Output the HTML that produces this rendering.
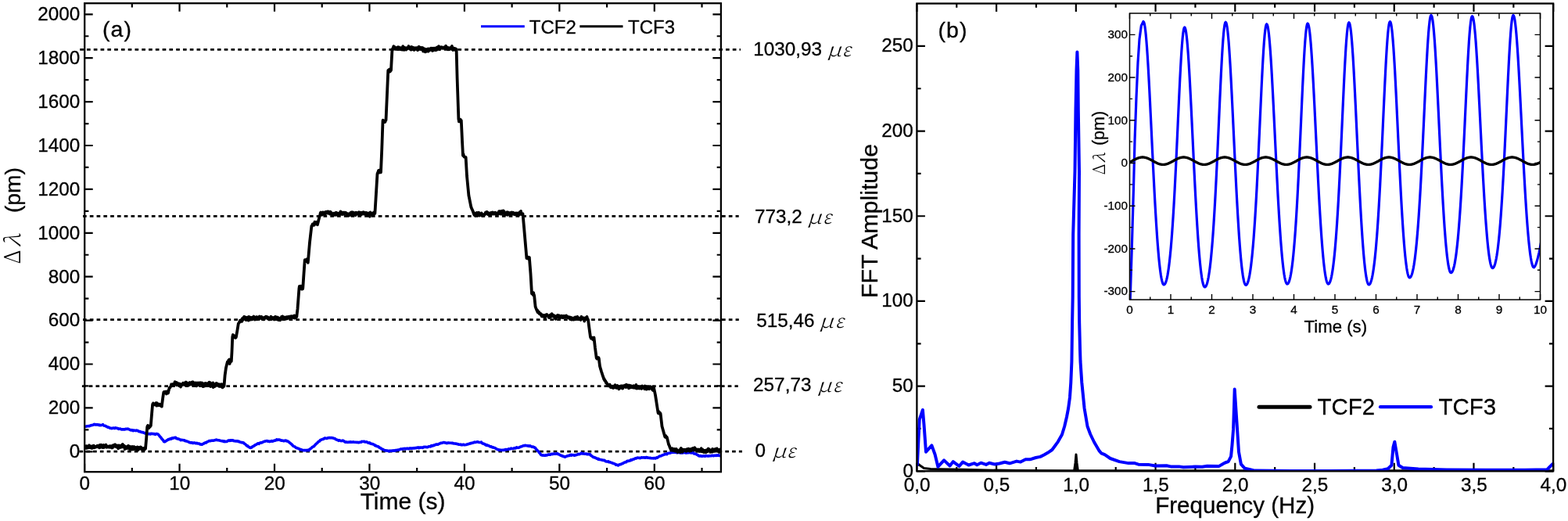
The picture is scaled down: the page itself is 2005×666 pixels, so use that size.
<!DOCTYPE html>
<html><head><meta charset="utf-8"><title>Figure</title>
<style>html,body{margin:0;padding:0;background:#fff;}svg{display:block;}</style></head>
<body><svg width="2005" height="666" viewBox="0 0 2005 666">
<rect width="2005" height="666" fill="#fff"/>
<line x1="102.2" y1="63.4" x2="947.0" y2="63.4" stroke="#000" stroke-width="2.7" stroke-dasharray="4.7 4.085"/>
<line x1="106.0" y1="276.4" x2="944.7" y2="276.4" stroke="#000" stroke-width="2.7" stroke-dasharray="4.7 4.085"/>
<line x1="106.0" y1="408.6" x2="944.8" y2="408.6" stroke="#000" stroke-width="2.7" stroke-dasharray="4.7 4.085"/>
<line x1="104.9" y1="493.7" x2="943.8" y2="493.7" stroke="#000" stroke-width="2.7" stroke-dasharray="4.7 4.085"/>
<line x1="101.5" y1="577.2" x2="949.0" y2="577.2" stroke="#000" stroke-width="2.7" stroke-dasharray="4.7 4.085"/>
<clipPath id="ca"><rect x="108.2" y="4.2" width="813.6999999999999" height="599.0"/></clipPath>
<g clip-path="url(#ca)">
<path d="M108.60,545.30 L109.60,545.26 L110.60,545.00 L111.60,544.74 L112.60,544.73 L113.00,544.55 L113.60,544.64 L114.60,544.68 L115.60,543.93 L116.60,543.62 L117.60,543.61 L118.60,543.29 L119.60,542.94 L120.60,542.40 L120.70,542.59 L121.60,542.93 L122.60,542.60 L123.60,542.99 L124.60,542.81 L125.60,543.13 L126.60,543.17 L127.00,543.64 L127.60,543.33 L128.60,543.63 L129.60,543.51 L130.60,543.33 L131.50,542.67 L131.60,543.21 L132.60,543.78 L133.60,544.26 L134.60,544.30 L135.60,545.00 L136.00,545.06 L136.60,545.32 L137.60,546.15 L138.60,546.05 L139.60,546.61 L140.60,547.20 L141.60,547.20 L142.30,547.57 L142.60,547.60 L143.60,547.51 L144.60,547.11 L145.60,547.36 L146.60,547.60 L147.60,546.79 L148.60,547.31 L149.60,547.38 L150.60,547.43 L151.60,548.34 L152.60,548.28 L153.60,548.03 L154.60,548.60 L155.60,548.97 L155.90,548.85 L156.60,549.02 L157.60,548.77 L158.60,548.88 L159.60,549.00 L160.60,548.40 L161.60,548.55 L162.60,548.32 L163.10,548.43 L163.60,548.25 L164.60,548.69 L165.60,549.08 L166.60,549.65 L167.60,550.00 L168.60,549.67 L169.60,550.10 L170.30,550.66 L170.60,549.98 L171.60,550.30 L172.60,550.32 L173.60,550.59 L174.60,550.39 L174.80,550.12 L175.60,550.40 L176.60,550.79 L177.60,551.60 L178.60,551.48 L179.60,551.88 L180.60,552.41 L181.10,552.47 L181.60,552.58 L182.60,552.60 L183.60,553.12 L184.60,553.26 L185.60,553.92 L186.60,554.04 L187.60,554.12 L188.30,554.47 L188.60,554.26 L189.60,554.74 L190.60,554.61 L191.60,554.89 L192.00,554.48 L192.60,554.89 L193.60,554.38 L194.60,554.29 L195.60,554.72 L196.60,554.58 L197.60,554.84 L198.60,555.36 L199.60,554.59 L200.60,554.64 L201.60,554.85 L201.80,554.92 L202.60,555.67 L203.60,556.82 L204.50,558.08 L204.60,558.16 L205.60,559.04 L206.60,560.55 L207.60,561.85 L208.60,562.85 L209.60,564.46 L210.00,564.69 L210.60,564.81 L211.60,564.07 L212.60,563.50 L213.60,562.78 L214.60,562.35 L215.30,561.50 L215.60,561.62 L216.60,561.67 L217.60,560.72 L218.60,561.14 L219.60,560.16 L220.60,560.47 L221.60,559.74 L222.60,559.82 L223.60,559.33 L224.60,559.32 L225.60,560.42 L226.60,560.88 L227.60,560.91 L228.60,561.26 L229.60,561.69 L230.60,561.89 L231.00,562.57 L231.60,562.27 L232.60,562.56 L233.60,562.54 L234.60,562.75 L235.60,562.76 L236.60,563.56 L236.90,563.26 L237.60,563.84 L238.60,564.02 L239.60,564.26 L240.60,564.77 L241.60,565.13 L242.60,565.69 L243.10,565.81 L243.60,565.86 L244.60,565.66 L245.60,565.86 L246.60,566.55 L247.60,566.03 L248.60,566.00 L249.60,566.42 L250.60,566.75 L251.60,566.29 L252.60,566.85 L253.60,567.00 L254.60,566.97 L255.60,567.85 L256.60,567.91 L257.60,568.19 L258.10,568.11 L258.60,568.16 L259.60,567.42 L260.60,567.01 L261.60,566.27 L262.60,565.75 L263.60,565.88 L264.60,564.92 L265.60,564.62 L266.60,564.04 L267.10,563.69 L267.60,563.60 L268.60,563.74 L269.60,563.37 L270.60,563.26 L271.60,563.16 L272.60,563.31 L273.60,563.04 L274.60,562.82 L275.60,562.44 L276.60,562.10 L277.60,562.54 L278.60,562.75 L279.60,562.69 L280.60,563.07 L281.60,563.34 L282.60,563.57 L283.60,563.80 L284.60,563.67 L285.60,564.38 L286.60,563.90 L287.50,564.62 L287.60,564.50 L288.60,564.40 L289.60,564.45 L290.60,564.15 L291.60,563.29 L292.60,562.96 L293.60,563.38 L294.60,562.73 L295.00,562.90 L295.60,563.20 L296.60,562.73 L297.60,562.77 L298.60,563.52 L299.60,563.62 L300.60,563.70 L301.60,563.92 L302.60,563.85 L303.60,563.84 L304.60,564.33 L304.80,564.16 L305.60,564.22 L306.60,565.04 L307.60,565.18 L308.60,565.58 L309.60,565.51 L310.60,565.88 L311.50,566.05 L311.60,566.16 L312.60,567.22 L313.60,567.76 L314.60,568.84 L315.30,569.38 L315.60,570.01 L316.60,569.85 L317.60,571.12 L318.60,571.57 L319.60,572.28 L320.20,572.34 L320.60,572.33 L321.60,572.01 L322.60,571.18 L323.60,570.60 L324.60,569.88 L325.00,569.99 L325.60,569.42 L326.60,568.43 L327.60,568.36 L328.60,567.59 L329.60,566.82 L330.60,567.05 L331.00,567.33 L331.60,566.79 L332.60,566.10 L333.60,565.78 L334.60,565.92 L335.60,565.30 L336.60,564.90 L337.60,564.49 L338.60,564.14 L339.60,563.95 L340.00,563.74 L340.60,563.74 L341.60,563.58 L342.60,564.12 L343.60,563.97 L344.60,564.57 L345.30,564.08 L345.60,564.30 L346.60,564.11 L347.60,563.57 L348.60,564.11 L349.60,563.82 L350.60,563.12 L351.60,563.21 L352.60,562.90 L353.60,561.93 L354.60,562.43 L355.60,562.13 L355.80,562.12 L356.60,561.98 L357.60,562.38 L358.60,562.59 L359.60,563.12 L360.60,563.10 L361.60,563.21 L362.60,563.78 L363.60,563.30 L364.60,563.38 L365.60,563.06 L366.60,563.95 L367.60,563.83 L367.80,563.83 L368.60,564.46 L369.60,565.19 L370.60,566.08 L371.60,566.83 L372.60,567.71 L373.60,568.64 L374.60,569.88 L375.60,570.51 L376.10,570.79 L376.60,570.90 L377.60,571.38 L378.60,572.43 L379.60,572.65 L380.60,573.04 L381.60,573.43 L382.60,573.73 L383.60,574.48 L384.60,574.97 L385.60,574.90 L386.60,575.19 L387.60,575.44 L388.60,575.78 L389.60,575.60 L390.60,575.81 L391.60,575.52 L392.60,575.82 L393.60,575.28 L394.60,575.48 L394.90,575.68 L395.60,574.67 L396.60,573.80 L397.60,573.21 L398.60,572.37 L399.60,571.33 L400.60,570.91 L401.60,570.50 L402.60,569.03 L403.60,568.13 L404.60,567.01 L405.60,566.45 L406.60,565.15 L407.60,564.27 L408.60,563.96 L409.60,562.51 L410.30,562.37 L410.60,562.37 L411.60,561.67 L412.60,561.37 L413.60,561.34 L414.60,560.43 L414.80,560.25 L415.60,559.98 L416.60,560.23 L417.60,560.49 L418.60,560.26 L419.60,559.68 L420.60,559.61 L421.60,559.59 L422.60,559.69 L423.60,559.47 L423.80,559.55 L424.60,559.76 L425.60,559.85 L426.60,560.16 L427.60,560.46 L428.00,560.48 L428.60,560.96 L429.60,561.87 L430.60,562.11 L431.60,562.54 L432.60,562.67 L432.80,563.30 L433.60,562.76 L434.60,562.94 L435.60,563.56 L436.60,563.58 L437.60,563.42 L438.40,563.07 L438.60,563.48 L439.60,563.76 L440.60,564.44 L441.60,565.21 L442.60,565.05 L443.60,565.16 L444.00,565.21 L444.60,565.43 L445.60,565.31 L446.60,564.98 L447.60,565.21 L448.60,564.81 L449.60,565.28 L450.60,565.18 L450.80,565.17 L451.60,564.89 L452.60,565.27 L453.60,565.24 L454.60,565.31 L455.60,565.45 L456.60,565.34 L457.60,565.44 L458.60,565.81 L459.60,565.37 L460.60,565.28 L461.60,565.28 L462.60,564.41 L463.60,564.45 L464.60,564.50 L465.40,564.40 L465.60,564.26 L466.60,564.90 L467.60,564.98 L468.60,564.91 L469.60,565.26 L470.60,565.98 L471.60,566.18 L472.60,565.87 L473.60,566.97 L474.60,567.07 L475.60,567.54 L476.60,567.60 L477.60,568.11 L478.60,568.40 L479.60,569.81 L480.60,569.62 L481.60,570.56 L482.60,570.49 L483.50,571.14 L483.60,570.74 L484.60,571.64 L485.60,572.56 L486.60,572.58 L487.60,573.73 L488.60,574.13 L489.60,574.36 L490.60,575.07 L491.30,575.49 L491.60,575.65 L492.60,575.72 L493.60,575.84 L494.60,576.16 L495.60,576.17 L496.60,576.30 L497.00,576.69 L497.60,576.86 L498.60,576.14 L499.60,576.42 L500.60,576.15 L501.60,575.95 L502.60,576.30 L503.60,575.85 L504.60,576.25 L505.60,575.57 L506.60,575.75 L507.10,575.54 L507.60,575.29 L508.60,575.37 L509.60,574.94 L510.60,574.88 L511.60,574.46 L512.60,573.95 L513.60,573.95 L513.90,573.91 L514.60,574.11 L515.60,573.60 L516.60,573.77 L517.60,573.30 L518.60,573.85 L519.60,573.38 L520.60,573.15 L521.60,573.54 L522.60,573.79 L523.60,573.09 L524.60,573.15 L525.10,573.21 L525.60,573.06 L526.60,573.34 L527.60,572.93 L528.60,572.85 L529.60,573.07 L530.60,572.63 L531.60,572.82 L532.60,572.36 L533.60,572.19 L534.60,571.93 L535.60,572.75 L536.40,572.12 L536.60,572.25 L537.60,572.11 L538.60,572.08 L539.60,571.98 L540.60,572.38 L541.60,571.57 L542.60,571.37 L543.60,571.43 L544.60,571.28 L545.60,571.73 L546.60,571.68 L547.60,571.16 L548.60,570.76 L549.60,570.73 L550.60,570.88 L551.60,569.54 L552.60,570.09 L553.60,569.40 L554.60,569.64 L555.60,568.82 L556.60,568.73 L557.60,568.13 L558.60,567.97 L559.60,568.26 L560.60,567.83 L561.60,567.23 L562.60,566.82 L563.60,566.27 L564.60,566.35 L565.60,566.15 L566.60,565.84 L566.80,565.78 L567.60,565.57 L568.60,565.90 L569.60,565.97 L570.60,566.37 L571.60,566.58 L572.60,566.14 L573.60,566.05 L574.60,566.29 L575.60,566.22 L576.60,566.25 L577.60,566.48 L578.60,566.30 L579.20,566.75 L579.60,566.66 L580.60,566.95 L581.60,567.04 L582.60,567.11 L583.60,567.26 L584.60,567.64 L585.60,567.77 L586.60,568.17 L587.60,568.31 L588.60,568.17 L589.60,568.74 L590.00,568.46 L590.60,568.63 L591.60,568.67 L592.60,568.19 L593.60,568.70 L594.60,568.68 L595.60,568.57 L596.00,568.49 L596.60,568.32 L597.60,567.85 L598.60,567.72 L599.60,567.33 L600.60,567.18 L601.60,566.54 L602.60,566.59 L602.70,566.54 L603.60,566.25 L604.60,565.94 L605.60,565.96 L606.60,565.17 L607.60,565.46 L608.60,565.17 L609.50,564.97 L609.60,565.01 L610.60,564.87 L611.60,565.08 L612.60,565.43 L613.60,565.49 L614.60,565.56 L615.40,565.22 L615.60,565.84 L616.60,566.55 L617.60,567.05 L618.60,567.40 L619.60,567.50 L620.60,568.67 L621.60,568.94 L622.20,568.67 L622.60,569.51 L623.60,569.32 L624.60,569.65 L625.60,570.09 L626.60,570.85 L627.60,570.72 L628.60,571.16 L629.00,571.64 L629.60,571.86 L630.60,571.88 L631.60,572.29 L632.60,572.48 L633.60,573.07 L634.60,573.79 L635.60,574.22 L636.60,574.60 L637.60,575.26 L637.80,574.91 L638.60,575.11 L639.60,575.34 L640.60,575.33 L641.60,575.48 L642.60,575.34 L643.60,575.19 L644.60,575.39 L645.60,574.87 L646.60,574.53 L647.60,574.90 L648.60,574.56 L649.60,574.47 L650.60,573.78 L651.60,573.94 L652.60,573.70 L653.40,573.48 L653.60,573.10 L654.60,573.41 L655.60,573.55 L656.60,573.25 L657.60,572.83 L658.60,572.81 L659.60,572.83 L660.60,571.78 L661.60,572.27 L662.20,572.34 L662.60,572.24 L663.60,572.16 L664.60,571.69 L665.60,571.16 L666.60,570.83 L667.60,570.62 L668.60,569.96 L669.60,569.75 L670.60,569.66 L671.00,569.79 L671.60,569.33 L672.60,569.48 L673.60,569.66 L674.60,570.06 L675.60,569.83 L676.60,570.33 L677.60,569.83 L677.80,570.05 L678.60,570.34 L679.60,570.94 L680.60,571.36 L681.60,571.08 L682.60,571.58 L683.60,572.25 L683.70,572.04 L684.60,572.72 L685.60,574.36 L686.60,575.22 L687.60,576.22 L688.60,577.19 L689.60,578.77 L690.60,579.65 L691.60,581.19 L692.50,581.77 L692.60,581.79 L693.60,582.10 L694.60,581.91 L695.60,582.30 L696.60,582.24 L697.30,581.97 L697.60,582.14 L698.60,581.78 L699.60,581.85 L700.60,581.21 L701.60,581.00 L702.60,581.16 L703.60,581.16 L704.60,580.85 L705.20,580.22 L705.60,580.25 L706.60,580.58 L707.60,580.17 L708.60,579.96 L709.60,580.23 L710.60,580.31 L711.60,579.99 L712.60,579.79 L713.00,579.84 L713.60,580.64 L714.60,580.73 L715.60,581.33 L716.60,581.87 L717.60,582.42 L718.60,582.63 L719.60,583.28 L720.60,583.38 L721.60,583.96 L721.70,583.84 L722.60,584.12 L723.60,583.53 L724.60,583.06 L725.60,582.86 L726.60,582.60 L727.60,582.53 L728.60,581.66 L729.60,581.51 L730.50,581.41 L730.60,582.14 L731.60,581.81 L732.60,581.60 L733.60,581.87 L734.60,582.27 L735.40,581.74 L735.60,581.65 L736.60,581.75 L737.60,581.27 L738.60,581.02 L739.60,580.43 L740.60,580.75 L741.60,580.40 L742.60,579.82 L743.20,579.67 L743.60,579.05 L744.60,579.85 L745.60,579.78 L746.60,580.08 L747.60,580.28 L748.60,580.16 L749.60,579.97 L750.60,580.62 L751.60,580.48 L752.60,580.72 L753.60,580.79 L754.00,580.91 L754.60,580.81 L755.60,582.34 L756.60,582.75 L757.60,583.62 L758.60,584.48 L759.60,584.65 L760.00,584.45 L760.60,584.92 L761.60,585.24 L762.60,585.82 L763.60,586.37 L764.60,586.26 L765.20,587.09 L765.60,586.72 L766.60,587.41 L767.60,587.54 L768.60,587.73 L769.60,588.03 L770.60,588.15 L771.60,588.37 L772.60,588.34 L773.60,588.99 L774.60,589.70 L775.60,589.97 L776.60,590.04 L777.60,590.13 L777.80,589.83 L778.60,590.67 L779.60,590.67 L780.60,591.05 L781.60,591.37 L782.60,591.85 L783.60,592.10 L784.60,592.57 L785.60,592.70 L786.60,593.26 L787.60,594.30 L788.60,594.10 L789.60,594.44 L790.40,594.93 L790.60,594.89 L791.60,594.01 L792.60,593.81 L793.60,593.66 L794.60,593.07 L795.60,592.60 L796.60,592.53 L797.60,591.54 L798.60,591.31 L799.60,590.73 L800.60,590.80 L801.60,589.51 L802.60,589.40 L803.00,589.27 L803.60,589.37 L804.60,589.03 L805.60,588.90 L806.60,587.84 L807.60,588.09 L808.60,587.50 L809.60,587.09 L810.60,587.06 L811.60,586.37 L812.60,585.76 L813.60,585.86 L814.60,585.25 L815.60,585.14 L816.60,585.37 L817.60,585.33 L818.60,585.62 L819.60,585.15 L820.60,584.80 L821.60,584.97 L822.60,584.90 L823.60,584.80 L824.60,585.19 L825.60,584.90 L826.60,584.54 L827.60,585.18 L828.00,584.97 L828.60,585.15 L829.60,585.19 L830.60,585.43 L831.60,585.38 L832.60,585.78 L833.60,585.68 L834.60,585.78 L835.60,585.89 L836.60,585.52 L837.60,585.95 L837.70,585.94 L838.60,585.67 L839.60,584.85 L840.60,585.17 L841.60,584.35 L842.60,583.60 L843.60,583.04 L844.60,582.97 L845.60,582.59 L846.60,582.01 L847.60,581.78 L848.60,581.17 L849.60,581.04 L850.30,580.42 L850.60,580.52 L851.60,580.54 L852.60,580.70 L853.60,579.58 L854.60,579.48 L855.60,579.15 L856.60,579.32 L857.60,578.60 L858.60,578.54 L859.60,578.42 L859.70,578.16 L860.60,578.19 L861.60,578.34 L862.60,577.97 L863.60,578.17 L864.60,578.46 L865.60,578.63 L866.60,578.58 L867.60,578.21 L868.60,578.57 L869.60,578.92 L870.60,578.89 L871.60,578.77 L872.00,578.58 L872.60,578.94 L873.60,578.61 L874.60,578.43 L875.60,578.49 L876.60,579.02 L877.60,578.68 L878.60,578.89 L879.60,578.45 L880.60,578.77 L881.60,578.35 L882.60,578.43 L883.60,579.06 L884.60,578.60 L885.00,578.27 L885.60,578.66 L886.60,579.23 L887.60,579.92 L888.60,579.96 L889.60,580.12 L890.60,580.95 L891.60,581.49 L892.60,581.98 L893.60,582.75 L894.40,582.88 L894.60,583.00 L895.60,582.52 L896.60,583.02 L897.60,583.32 L898.60,582.99 L899.60,582.86 L900.60,582.84 L901.60,583.25 L902.60,582.57 L903.60,582.77 L904.60,582.92 L905.60,582.99 L906.60,582.69 L907.00,582.88 L907.60,582.70 L908.60,582.74 L909.60,582.62 L910.60,582.31 L911.60,582.53 L912.60,582.70 L913.60,582.18 L914.60,582.31 L915.60,582.47 L916.60,581.98 L917.60,582.24 L918.60,581.87 L919.60,582.36 L920.60,582.60 L921.00,582.51" fill="none" stroke="#0000ff" stroke-width="3.6" stroke-linejoin="round" stroke-linecap="round" />
<path d="M108.50,570.77 L108.85,572.19 L109.20,571.40 L109.55,571.37 L109.90,572.93 L110.25,570.11 L110.60,572.07 L110.95,571.26 L111.30,572.75 L111.65,571.54 L112.00,570.43 L112.35,571.74 L112.70,572.29 L113.05,571.52 L113.40,571.74 L113.75,570.93 L114.10,569.29 L114.45,572.21 L114.80,571.94 L115.15,571.01 L115.50,571.02 L115.85,572.32 L116.20,570.70 L116.55,570.73 L116.90,571.23 L117.25,572.80 L117.60,570.39 L117.95,572.95 L118.30,571.24 L118.65,570.51 L119.00,572.25 L119.35,571.10 L119.70,569.68 L120.05,570.76 L120.40,571.83 L120.75,572.21 L121.10,570.57 L121.45,571.64 L121.80,571.74 L122.15,570.70 L122.50,571.52 L122.85,571.30 L123.20,570.71 L123.55,570.90 L123.90,570.86 L124.25,570.88 L124.60,569.80 L124.95,570.35 L125.30,571.38 L125.65,570.33 L126.00,570.63 L126.35,571.25 L126.70,570.20 L127.05,572.29 L127.40,569.03 L127.75,570.60 L128.10,569.17 L128.45,571.85 L128.80,571.85 L129.15,568.71 L129.50,569.30 L129.85,571.17 L130.00,571.20 L130.20,571.32 L130.55,571.22 L130.90,571.88 L131.25,571.98 L131.60,571.16 L131.95,571.93 L132.30,569.01 L132.65,571.67 L133.00,569.90 L133.35,571.80 L133.70,570.16 L134.05,569.81 L134.40,570.57 L134.75,569.47 L135.10,569.75 L135.45,568.59 L135.80,570.22 L136.15,570.99 L136.50,571.85 L136.85,570.59 L137.20,571.08 L137.55,570.70 L137.90,570.81 L138.25,571.27 L138.60,571.54 L138.95,570.54 L139.30,570.51 L139.65,570.49 L140.00,570.90 L140.35,570.15 L140.70,571.79 L141.05,570.36 L141.40,571.55 L141.75,570.28 L142.10,571.00 L142.45,571.41 L142.80,570.31 L143.15,572.48 L143.50,570.90 L143.85,572.37 L144.20,571.25 L144.55,569.26 L144.90,569.88 L145.25,570.79 L145.60,570.13 L145.95,570.03 L146.30,569.90 L146.65,568.35 L147.00,570.20 L147.35,568.30 L147.70,570.95 L148.05,570.01 L148.40,570.18 L148.75,570.82 L149.10,571.56 L149.45,570.26 L149.80,570.23 L150.15,570.65 L150.50,569.52 L150.85,570.78 L151.20,573.32 L151.55,570.58 L151.90,571.78 L152.25,569.31 L152.60,570.69 L152.95,569.96 L153.30,570.38 L153.65,570.83 L154.00,572.04 L154.35,570.27 L154.70,570.29 L155.05,569.56 L155.40,571.31 L155.75,570.30 L156.00,570.80 L156.10,569.72 L156.45,571.35 L156.80,567.97 L157.15,569.70 L157.50,570.96 L157.85,569.94 L158.20,569.67 L158.55,570.41 L158.90,569.79 L159.25,571.52 L159.60,574.09 L159.95,572.77 L160.30,570.82 L160.65,570.98 L161.00,571.39 L161.35,573.03 L161.70,571.72 L162.05,571.94 L162.40,573.30 L162.75,572.93 L163.00,572.01 L163.10,571.22 L163.45,570.43 L163.80,571.40 L164.15,569.91 L164.50,572.36 L164.85,571.07 L165.20,572.06 L165.55,574.00 L165.90,573.11 L166.25,570.94 L166.60,573.69 L166.95,573.96 L167.30,572.15 L167.65,572.10 L168.00,572.80 L168.35,571.58 L168.70,574.51 L169.05,570.91 L169.40,572.32 L169.75,573.04 L170.00,573.30 L170.10,573.29 L170.45,573.24 L170.80,572.68 L171.15,574.24 L171.50,571.02 L171.85,573.49 L172.20,572.55 L172.55,572.93 L172.90,572.83 L173.25,572.03 L173.60,572.33 L173.95,574.10 L174.30,573.58 L174.65,572.49 L175.00,574.86 L175.35,574.90 L175.70,571.32 L176.05,573.10 L176.40,575.23 L176.75,573.60 L177.10,572.88 L177.45,572.47 L177.80,572.09 L178.15,572.65 L178.50,572.54 L178.85,573.76 L179.20,572.63 L179.55,572.45 L179.90,571.53 L180.25,572.75 L180.60,572.01 L180.95,572.77 L181.30,574.25 L181.65,573.75 L182.00,573.95 L182.35,573.50 L182.70,573.30 L183.05,573.64 L183.40,573.59 L183.75,574.56 L184.10,572.83 L184.45,574.97 L184.80,573.66 L185.15,572.96 L185.50,573.63 L185.85,573.64 L186.00,573.50 L186.20,571.25 L186.55,567.31 L186.90,563.38 L187.20,560.00 L187.25,559.30 L187.60,554.40 L187.95,549.50 L188.20,546.00 L188.30,545.91 L188.65,544.52 L189.00,543.99 L189.00,544.81 L189.35,544.76 L189.70,544.37 L190.05,545.84 L190.40,547.21 L190.75,546.20 L191.10,545.13 L191.45,545.46 L191.80,545.63 L192.15,544.22 L192.50,543.89 L192.80,544.30 L192.85,543.70 L193.20,539.53 L193.55,535.36 L193.90,531.19 L194.00,530.00 L194.25,527.00 L194.60,522.80 L194.95,518.60 L195.00,518.00 L195.30,516.39 L195.65,516.35 L196.00,515.45 L196.35,515.99 L196.70,517.38 L197.05,517.00 L197.40,516.23 L197.75,516.51 L198.10,516.85 L198.45,517.28 L198.80,516.09 L199.15,516.56 L199.50,515.09 L199.85,515.89 L200.20,518.64 L200.55,515.05 L200.90,517.55 L201.25,518.38 L201.60,517.85 L201.95,517.29 L202.30,518.07 L202.65,518.20 L203.00,518.04 L203.35,516.48 L203.70,517.58 L204.05,516.84 L204.40,516.93 L204.75,518.04 L205.10,518.53 L205.45,518.67 L205.80,517.18 L206.15,518.82 L206.50,519.21 L206.85,519.59 L207.00,517.80 L207.20,516.29 L207.55,513.65 L207.90,511.02 L208.25,508.38 L208.30,508.00 L208.60,506.05 L208.95,503.78 L209.30,501.50 L209.30,501.50 L209.65,501.04 L210.00,502.29 L210.35,502.03 L210.70,501.28 L211.05,500.96 L211.40,500.76 L211.75,502.20 L212.10,501.47 L212.45,502.33 L212.80,503.47 L213.15,501.55 L213.50,500.56 L213.85,500.83 L214.20,500.66 L214.55,500.43 L214.90,502.52 L215.25,501.71 L215.30,500.19 L215.60,499.75 L215.95,498.29 L216.30,496.83 L216.50,496.04 L216.65,495.92 L217.00,495.71 L217.35,495.44 L217.70,495.11 L218.05,494.26 L218.40,493.54 L218.50,493.37 L218.75,493.11 L219.10,491.26 L219.45,492.27 L219.80,492.61 L220.15,491.79 L220.50,492.65 L220.85,491.52 L221.20,491.08 L221.55,493.00 L221.90,491.57 L222.25,490.89 L222.60,491.54 L222.95,491.47 L223.30,490.96 L223.60,488.07 L223.65,490.05 L224.00,490.01 L224.35,489.56 L224.70,490.81 L225.05,491.60 L225.40,489.97 L225.75,489.06 L226.10,492.34 L226.45,490.10 L226.80,489.62 L227.15,491.40 L227.50,491.55 L227.85,490.75 L228.20,492.28 L228.55,490.66 L228.90,490.54 L229.25,491.73 L229.60,492.54 L229.95,491.43 L230.30,492.12 L230.65,491.61 L231.00,494.56 L231.35,491.24 L231.70,493.44 L232.05,491.70 L232.40,491.52 L232.75,491.90 L233.10,491.73 L233.45,491.77 L233.80,491.02 L234.15,489.71 L234.50,489.94 L234.85,490.69 L235.20,490.88 L235.55,491.74 L235.90,490.82 L236.25,491.38 L236.60,492.02 L236.95,490.03 L237.30,488.65 L237.65,488.88 L238.00,488.73 L238.35,491.94 L238.70,489.14 L239.05,491.17 L239.40,490.53 L239.75,491.62 L240.00,491.80 L240.10,490.35 L240.45,490.32 L240.80,491.01 L241.15,490.62 L241.50,489.75 L241.85,490.55 L242.20,492.10 L242.55,489.03 L242.90,490.76 L243.25,489.84 L243.60,490.58 L243.95,490.52 L244.30,490.06 L244.65,491.05 L245.00,488.67 L245.35,491.49 L245.70,489.46 L246.05,490.80 L246.40,490.65 L246.75,488.28 L247.10,490.40 L247.45,491.26 L247.80,492.67 L248.15,491.28 L248.50,491.00 L248.85,489.70 L249.20,492.24 L249.55,492.48 L249.90,490.47 L250.25,490.71 L250.60,489.44 L250.95,491.51 L251.30,493.28 L251.65,491.53 L252.00,492.18 L252.35,491.37 L252.70,489.75 L253.05,492.03 L253.40,489.37 L253.75,490.27 L254.10,491.17 L254.45,491.76 L254.80,491.42 L255.15,491.12 L255.50,489.72 L255.85,489.37 L256.20,490.72 L256.55,489.90 L256.90,489.47 L257.25,489.87 L257.60,490.99 L257.95,489.43 L258.30,490.01 L258.65,489.81 L259.00,491.83 L259.35,492.28 L259.70,494.07 L260.00,490.48 L260.05,490.66 L260.40,492.34 L260.75,491.37 L261.10,491.34 L261.45,493.61 L261.80,491.42 L262.15,490.64 L262.50,489.93 L262.85,491.84 L263.20,492.12 L263.55,490.10 L263.90,490.81 L264.25,492.47 L264.60,492.46 L264.95,490.79 L265.30,491.98 L265.65,492.36 L266.00,489.83 L266.35,491.16 L266.70,491.83 L267.05,490.30 L267.40,488.64 L267.75,490.70 L268.10,492.29 L268.45,492.95 L268.80,489.19 L269.15,494.06 L269.50,490.53 L269.85,492.73 L270.20,493.66 L270.55,493.43 L270.90,492.63 L271.25,491.08 L271.60,493.00 L271.95,491.33 L272.30,489.45 L272.65,495.06 L273.00,493.42 L273.35,494.35 L273.70,491.77 L274.05,493.97 L274.40,494.08 L274.75,494.02 L275.10,492.93 L275.45,491.63 L275.80,492.61 L276.15,490.04 L276.50,489.98 L276.85,491.44 L277.20,490.06 L277.55,490.74 L277.90,491.06 L278.25,492.93 L278.60,492.51 L278.95,491.25 L279.30,492.93 L279.65,491.23 L280.00,492.13 L280.35,493.77 L280.70,491.92 L281.05,492.76 L281.40,491.51 L281.75,492.75 L282.10,494.02 L282.45,491.56 L282.80,492.57 L283.15,491.20 L283.50,491.08 L283.85,491.28 L284.20,494.00 L284.55,495.43 L284.90,493.67 L285.25,492.46 L285.60,493.82 L285.95,492.83 L286.30,493.89 L286.60,492.50 L286.65,491.88 L287.00,487.50 L287.35,483.13 L287.60,480.00 L287.70,479.29 L288.05,476.79 L288.40,474.29 L288.75,471.79 L289.00,470.00 L289.10,469.60 L289.45,468.20 L289.80,466.80 L290.15,465.40 L290.50,464.00 L290.85,462.60 L291.00,462.43 L291.20,463.18 L291.55,462.17 L291.90,463.69 L292.25,460.43 L292.60,463.47 L292.95,461.49 L293.30,459.52 L293.65,465.04 L294.00,463.58 L294.35,460.75 L294.70,461.65 L295.05,461.78 L295.40,461.97 L295.75,460.69 L295.80,461.79 L296.10,456.86 L296.45,450.86 L296.50,450.00 L296.80,442.69 L297.15,434.16 L297.30,430.50 L297.50,430.12 L297.85,428.01 L298.20,428.65 L298.55,431.50 L298.90,428.85 L299.25,430.80 L299.60,430.81 L299.95,429.66 L300.30,430.54 L300.65,430.29 L301.00,430.18 L301.35,431.81 L301.70,431.25 L302.00,430.50 L302.05,430.22 L302.40,428.23 L302.75,426.25 L303.10,424.27 L303.45,422.28 L303.50,422.00 L303.80,420.15 L304.15,418.00 L304.50,415.85 L304.80,413.76 L304.85,413.60 L305.20,413.31 L305.55,412.50 L305.90,412.38 L306.25,411.21 L306.60,410.70 L306.95,409.66 L307.00,410.99 L307.30,410.66 L307.65,411.01 L308.00,410.10 L308.35,410.39 L308.70,408.93 L309.05,409.64 L309.40,410.87 L309.75,407.12 L310.10,408.78 L310.45,408.99 L310.80,407.68 L311.15,407.35 L311.50,407.32 L311.50,405.75 L311.85,406.16 L312.20,404.82 L312.55,405.53 L312.90,405.68 L313.25,406.01 L313.60,406.46 L313.95,407.05 L314.30,405.67 L314.65,409.16 L315.00,408.51 L315.35,407.88 L315.70,406.58 L316.05,406.72 L316.40,407.23 L316.75,407.28 L317.10,405.32 L317.45,407.53 L317.80,409.67 L318.15,404.91 L318.50,407.92 L318.85,407.37 L319.20,407.21 L319.55,408.63 L319.90,405.75 L320.25,407.26 L320.60,408.50 L320.95,406.51 L321.30,405.93 L321.65,406.74 L322.00,406.42 L322.35,408.28 L322.70,406.01 L323.05,408.12 L323.40,405.53 L323.75,407.56 L324.10,406.79 L324.45,404.54 L324.80,407.22 L325.15,406.13 L325.50,406.31 L325.85,408.57 L326.20,405.55 L326.55,405.61 L326.90,408.10 L327.25,406.59 L327.60,408.01 L327.95,406.67 L328.30,405.19 L328.65,406.31 L329.00,407.33 L329.35,407.12 L329.70,406.08 L330.05,406.16 L330.40,406.11 L330.75,405.54 L331.10,408.04 L331.45,406.14 L331.80,404.55 L332.15,404.97 L332.50,406.14 L332.85,406.42 L333.20,405.68 L333.55,405.47 L333.90,406.51 L334.25,404.89 L334.60,405.22 L334.95,407.49 L335.30,406.30 L335.65,407.14 L336.00,407.96 L336.35,407.34 L336.70,406.52 L337.05,408.40 L337.40,406.92 L337.75,405.92 L338.10,407.28 L338.45,407.19 L338.80,405.88 L339.15,406.57 L339.50,406.38 L339.85,404.61 L340.00,406.43 L340.20,406.11 L340.55,406.35 L340.90,404.91 L341.25,406.12 L341.60,406.60 L341.95,406.72 L342.30,405.37 L342.65,407.45 L343.00,405.78 L343.35,406.99 L343.70,408.23 L344.05,406.35 L344.40,406.76 L344.75,408.29 L345.10,406.94 L345.45,407.02 L345.80,407.38 L346.15,408.10 L346.50,404.78 L346.85,405.68 L347.20,405.70 L347.55,405.88 L347.90,406.40 L348.25,406.44 L348.60,407.42 L348.95,406.07 L349.30,406.85 L349.65,407.14 L350.00,406.27 L350.35,407.10 L350.70,408.45 L351.05,406.45 L351.40,405.59 L351.75,406.20 L352.10,405.00 L352.45,406.28 L352.80,406.69 L353.15,405.28 L353.50,405.41 L353.85,406.70 L354.20,405.84 L354.55,406.59 L354.90,405.59 L355.25,406.07 L355.60,406.27 L355.95,409.10 L356.30,406.40 L356.65,406.71 L357.00,406.97 L357.35,407.11 L357.70,407.89 L358.05,407.62 L358.40,409.22 L358.75,407.39 L359.10,408.44 L359.45,407.06 L359.80,407.38 L360.00,404.80 L360.15,406.28 L360.50,406.52 L360.85,406.17 L361.20,404.47 L361.55,407.74 L361.90,406.70 L362.25,406.55 L362.60,406.64 L362.95,406.84 L363.30,407.15 L363.65,405.49 L364.00,405.89 L364.35,406.97 L364.70,406.71 L365.05,405.87 L365.40,405.96 L365.75,405.45 L366.10,406.23 L366.45,407.45 L366.80,405.13 L367.15,407.37 L367.50,406.56 L367.85,405.58 L368.20,406.89 L368.55,404.82 L368.90,404.78 L369.25,405.14 L369.60,406.25 L369.95,406.19 L370.30,406.28 L370.65,406.85 L371.00,404.47 L371.35,407.01 L371.70,404.82 L372.05,405.46 L372.40,405.62 L372.75,404.84 L373.10,404.19 L373.45,404.26 L373.80,405.36 L374.15,405.98 L374.50,405.89 L374.85,404.46 L375.20,404.56 L375.55,404.47 L375.90,405.66 L376.25,403.48 L376.60,406.66 L376.95,404.82 L377.30,404.34 L377.65,405.66 L378.00,406.12 L378.35,405.71 L378.70,405.86 L379.05,404.40 L379.30,405.00 L379.40,404.17 L379.75,401.25 L380.10,398.33 L380.45,395.42 L380.50,395.00 L380.80,390.98 L381.15,386.29 L381.50,381.60 L381.85,376.91 L382.20,372.22 L382.50,368.13 L382.55,368.23 L382.90,365.87 L383.25,367.63 L383.60,368.45 L383.95,367.45 L384.30,368.74 L384.65,365.72 L385.00,369.31 L385.35,368.06 L385.70,369.49 L386.05,366.97 L386.40,369.55 L386.75,368.34 L387.10,369.27 L387.30,368.00 L387.45,365.75 L387.80,360.50 L388.15,355.25 L388.50,350.00 L388.50,350.00 L388.85,345.13 L389.20,340.26 L389.55,335.39 L389.70,333.30 L389.90,332.09 L390.25,334.84 L390.60,334.00 L390.95,334.01 L391.30,334.08 L391.65,332.25 L392.00,332.73 L392.35,331.42 L392.70,331.30 L393.05,333.85 L393.40,332.42 L393.75,335.78 L394.00,333.30 L394.10,332.14 L394.45,328.06 L394.80,323.98 L395.15,319.90 L395.50,315.83 L395.85,311.75 L396.00,310.00 L396.20,308.25 L396.55,305.19 L396.90,302.13 L397.25,299.06 L397.60,296.00 L397.95,292.94 L398.30,289.88 L398.40,289.00 L398.65,288.96 L399.00,288.98 L399.35,288.12 L399.70,286.45 L400.00,287.29 L400.05,287.75 L400.40,287.04 L400.75,287.58 L401.10,286.14 L401.45,285.66 L401.80,287.77 L402.15,285.25 L402.50,283.78 L402.85,286.66 L403.20,284.58 L403.55,285.27 L403.90,284.41 L404.25,283.89 L404.60,284.28 L404.95,285.36 L405.30,286.55 L405.65,284.13 L406.00,287.25 L406.00,285.43 L406.35,285.60 L406.70,284.20 L407.05,282.80 L407.40,281.40 L407.75,280.00 L408.00,279.00 L408.10,278.65 L408.45,277.41 L408.80,276.18 L409.15,274.94 L409.50,273.71 L409.70,272.20 L409.85,273.31 L410.20,271.53 L410.55,272.04 L410.90,274.35 L411.25,272.77 L411.60,272.35 L411.95,274.62 L412.00,272.99 L412.30,271.78 L412.65,273.11 L413.00,271.47 L413.35,273.81 L413.70,273.52 L414.05,271.87 L414.40,272.06 L414.75,272.77 L415.10,272.47 L415.45,271.65 L415.80,273.42 L416.15,270.89 L416.50,272.35 L416.85,272.29 L417.20,272.33 L417.55,272.32 L417.90,270.63 L418.25,272.59 L418.60,271.93 L418.95,271.24 L419.30,270.31 L419.65,270.36 L420.00,271.81 L420.35,270.73 L420.70,272.01 L421.05,273.09 L421.40,272.97 L421.75,273.43 L422.10,271.46 L422.45,270.67 L422.80,272.86 L423.15,272.48 L423.50,273.19 L423.85,272.14 L424.20,273.40 L424.55,273.31 L424.90,273.27 L425.25,273.54 L425.60,273.52 L425.95,273.40 L426.30,273.35 L426.65,274.00 L427.00,272.62 L427.35,274.92 L427.70,273.22 L428.05,274.13 L428.40,272.67 L428.75,272.52 L429.10,274.83 L429.45,272.66 L429.80,271.71 L430.15,272.16 L430.50,272.49 L430.85,274.69 L431.20,272.80 L431.55,274.11 L431.90,272.49 L432.25,273.99 L432.60,274.15 L432.95,275.17 L433.30,272.84 L433.65,274.00 L434.00,273.85 L434.35,272.47 L434.70,273.14 L435.05,272.58 L435.40,270.47 L435.75,273.61 L436.10,273.81 L436.45,272.42 L436.80,271.33 L437.15,273.79 L437.50,272.54 L437.85,273.40 L438.20,273.91 L438.55,271.82 L438.90,272.93 L439.25,271.68 L439.60,271.90 L439.95,271.80 L440.00,272.03 L440.30,273.57 L440.65,272.21 L441.00,272.09 L441.35,272.34 L441.70,272.87 L442.05,271.78 L442.40,272.32 L442.75,273.04 L443.10,272.82 L443.45,273.00 L443.80,272.96 L444.15,275.56 L444.50,274.69 L444.85,273.91 L445.20,273.41 L445.55,275.84 L445.90,273.76 L446.25,273.30 L446.60,273.72 L446.95,273.37 L447.30,274.66 L447.65,272.97 L448.00,274.86 L448.35,271.94 L448.70,273.08 L449.05,271.44 L449.40,273.89 L449.75,271.51 L450.10,271.93 L450.45,272.56 L450.80,273.29 L451.15,271.25 L451.50,272.19 L451.85,271.63 L452.20,273.22 L452.55,273.49 L452.90,273.34 L453.25,272.91 L453.60,273.44 L453.95,273.02 L454.30,274.18 L454.65,275.08 L455.00,271.69 L455.35,273.34 L455.70,272.80 L456.05,273.58 L456.40,272.27 L456.75,272.65 L457.10,271.87 L457.45,273.66 L457.80,272.76 L458.15,272.33 L458.50,272.89 L458.85,272.30 L459.20,271.33 L459.55,273.50 L459.90,272.95 L460.25,272.18 L460.60,273.32 L460.95,273.77 L461.30,271.68 L461.65,271.98 L462.00,274.40 L462.35,274.04 L462.70,271.87 L463.05,271.88 L463.40,272.62 L463.75,272.55 L464.10,271.44 L464.45,272.61 L464.80,271.27 L465.15,271.35 L465.50,273.59 L465.85,271.64 L466.20,272.00 L466.55,272.57 L466.90,273.17 L467.25,272.19 L467.60,272.95 L467.95,272.01 L468.30,274.45 L468.65,273.46 L469.00,272.10 L469.35,273.45 L469.70,274.11 L470.05,273.92 L470.40,275.35 L470.75,274.72 L471.10,272.96 L471.45,273.83 L471.80,272.44 L472.15,274.13 L472.50,274.32 L472.85,276.73 L473.20,273.84 L473.55,271.30 L473.90,272.84 L474.25,273.87 L474.60,272.48 L474.95,273.09 L475.30,273.36 L475.65,273.92 L476.00,273.54 L476.35,272.69 L476.70,274.87 L477.05,273.28 L477.40,273.16 L477.75,271.91 L478.10,272.19 L478.45,273.22 L478.80,270.94 L479.15,272.38 L479.40,273.00 L479.50,271.36 L479.85,265.64 L480.20,259.91 L480.50,255.00 L480.55,254.18 L480.90,248.40 L481.25,242.63 L481.60,236.85 L481.95,231.08 L482.30,225.30 L482.50,222.00 L482.65,222.20 L483.00,220.88 L483.35,220.15 L483.50,219.69 L483.70,219.48 L484.05,217.93 L484.40,220.14 L484.75,220.52 L485.10,217.84 L485.45,217.54 L485.80,219.29 L486.15,218.50 L486.50,216.95 L486.85,220.46 L487.00,220.00 L487.20,215.38 L487.55,207.31 L487.90,199.23 L488.25,191.15 L488.30,190.00 L488.60,181.25 L488.95,171.04 L489.30,160.83 L489.50,155.00 L489.65,153.62 L490.00,155.80 L490.35,155.25 L490.70,155.43 L491.05,155.57 L491.40,155.46 L491.75,156.07 L492.10,154.33 L492.45,155.89 L492.80,153.82 L493.15,154.25 L493.50,152.74 L493.50,153.58 L493.85,146.07 L494.20,138.13 L494.55,130.20 L494.90,122.27 L495.00,120.00 L495.25,114.23 L495.60,106.15 L495.95,98.08 L496.30,90.00 L496.30,90.00 L496.65,90.41 L497.00,89.87 L497.35,89.16 L497.70,88.84 L498.05,91.39 L498.40,88.57 L498.75,91.56 L499.10,91.01 L499.45,89.43 L499.80,88.89 L500.00,90.00 L500.15,87.30 L500.50,81.00 L500.85,74.70 L501.20,68.40 L501.50,63.00 L501.55,64.52 L501.90,62.72 L502.25,62.91 L502.60,61.17 L502.95,62.81 L503.00,60.70 L503.30,59.06 L503.65,61.00 L504.00,60.82 L504.35,62.60 L504.70,60.03 L505.05,60.43 L505.40,61.23 L505.75,62.85 L506.10,61.23 L506.45,62.31 L506.80,62.12 L507.15,61.40 L507.50,61.85 L507.85,61.90 L508.20,60.66 L508.55,62.79 L508.90,60.10 L509.25,62.83 L509.60,62.34 L509.95,60.90 L510.30,60.48 L510.65,61.21 L511.00,62.17 L511.35,62.51 L511.70,62.20 L512.05,63.02 L512.40,61.58 L512.75,62.53 L513.10,61.25 L513.45,63.43 L513.80,62.61 L514.15,61.74 L514.50,63.52 L514.85,62.69 L515.20,59.10 L515.55,61.88 L515.90,60.23 L516.25,62.62 L516.60,63.82 L516.95,60.67 L517.30,61.67 L517.65,61.23 L518.00,62.07 L518.35,62.50 L518.70,63.03 L519.05,61.29 L519.40,63.52 L519.75,61.31 L520.00,62.42 L520.10,62.93 L520.45,62.61 L520.80,60.81 L521.15,60.85 L521.50,61.30 L521.85,60.89 L522.20,61.85 L522.55,59.03 L522.90,61.23 L523.25,61.59 L523.60,61.57 L523.95,61.34 L524.30,62.65 L524.65,61.41 L525.00,62.29 L525.35,61.84 L525.70,63.64 L526.05,59.81 L526.40,63.18 L526.75,62.00 L527.10,62.17 L527.45,61.29 L527.80,60.62 L528.15,62.14 L528.50,62.19 L528.85,63.16 L529.20,61.04 L529.55,63.96 L529.90,62.76 L530.25,62.30 L530.60,62.24 L530.95,61.74 L531.30,61.28 L531.65,62.25 L532.00,62.71 L532.35,62.33 L532.70,61.24 L533.05,62.31 L533.40,61.47 L533.75,62.31 L534.10,64.11 L534.45,62.67 L534.80,61.39 L535.15,60.09 L535.50,60.40 L535.85,59.80 L536.20,61.91 L536.55,60.68 L536.90,61.35 L537.25,61.03 L537.60,61.91 L537.95,62.99 L538.30,60.77 L538.65,61.29 L539.00,61.20 L539.35,63.23 L539.70,61.22 L540.00,61.40 L540.05,60.86 L540.40,61.20 L540.75,63.17 L541.10,65.54 L541.45,62.56 L541.80,64.11 L542.15,63.48 L542.50,62.28 L542.85,62.95 L543.20,63.48 L543.55,63.71 L543.90,66.38 L544.25,62.88 L544.60,64.77 L544.95,65.06 L545.30,63.98 L545.65,64.79 L546.00,65.62 L546.35,64.67 L546.70,64.55 L547.00,64.97 L547.05,62.38 L547.40,65.50 L547.75,65.69 L548.10,64.46 L548.45,64.60 L548.80,62.37 L549.15,63.69 L549.50,62.73 L549.85,62.54 L550.20,63.98 L550.55,62.13 L550.90,62.85 L551.25,61.65 L551.60,63.26 L551.95,63.19 L552.30,62.25 L552.65,62.32 L553.00,64.95 L553.35,61.74 L553.70,61.96 L554.05,62.11 L554.40,63.75 L554.75,64.07 L555.00,62.65 L555.10,61.63 L555.45,62.11 L555.80,63.33 L556.15,61.62 L556.50,63.99 L556.85,64.10 L557.20,62.65 L557.55,63.18 L557.90,63.19 L558.25,63.79 L558.60,60.58 L558.95,62.46 L559.30,60.68 L559.65,60.22 L560.00,60.68 L560.35,60.33 L560.70,59.92 L561.05,59.22 L561.40,59.91 L561.75,62.60 L562.10,62.96 L562.45,61.53 L562.80,62.33 L563.15,60.95 L563.50,61.47 L563.85,61.63 L564.20,60.07 L564.55,60.27 L564.90,61.30 L565.25,61.13 L565.60,60.62 L565.95,61.65 L566.30,60.64 L566.65,61.89 L567.00,60.99 L567.35,60.71 L567.70,61.03 L568.05,60.50 L568.40,60.26 L568.75,60.43 L569.10,61.81 L569.45,61.51 L569.80,61.74 L570.00,58.77 L570.15,60.48 L570.50,60.47 L570.85,61.02 L571.20,60.48 L571.55,60.58 L571.90,61.80 L572.25,61.74 L572.60,60.72 L572.95,63.32 L573.30,62.99 L573.65,61.58 L574.00,63.10 L574.35,61.42 L574.70,63.08 L575.05,61.70 L575.40,61.23 L575.75,61.33 L576.10,60.95 L576.45,61.81 L576.80,61.90 L577.15,61.90 L577.50,61.44 L577.85,58.91 L578.20,62.72 L578.55,60.56 L578.90,62.94 L579.25,64.00 L579.60,63.30 L579.95,62.52 L580.30,62.58 L580.65,62.42 L581.00,61.80 L581.35,61.90 L581.70,62.07 L582.05,63.86 L582.40,62.54 L582.60,63.33 L582.75,62.37 L583.10,62.85 L583.45,62.86 L583.60,63.00 L583.80,70.40 L584.15,83.35 L584.50,96.30 L584.60,100.00 L584.85,107.29 L585.20,117.50 L585.55,127.71 L585.90,137.92 L586.25,148.12 L586.40,152.50 L586.60,153.02 L586.95,155.41 L587.30,154.07 L587.65,154.46 L588.00,153.60 L588.35,152.46 L588.70,152.76 L589.05,154.01 L589.40,154.11 L589.75,154.22 L589.80,154.00 L590.10,160.50 L590.45,168.08 L590.80,175.67 L591.00,180.00 L591.15,182.85 L591.50,189.50 L591.85,196.15 L592.00,199.00 L592.20,198.75 L592.55,197.00 L592.90,199.59 L593.25,199.89 L593.60,200.51 L593.95,200.30 L594.30,200.48 L594.65,200.57 L595.00,201.22 L595.35,201.81 L595.60,201.00 L595.70,202.71 L596.05,208.71 L596.40,214.71 L596.75,220.71 L597.00,225.00 L597.10,226.04 L597.45,229.69 L597.80,233.33 L598.15,236.98 L598.50,240.62 L598.85,244.27 L599.20,247.92 L599.40,250.00 L599.55,250.74 L599.90,252.47 L600.25,254.19 L600.60,255.92 L600.95,257.65 L601.30,259.37 L601.65,261.10 L602.00,262.83 L602.35,264.55 L602.40,264.80 L602.70,265.21 L603.05,266.43 L603.40,267.22 L603.75,267.64 L604.10,268.58 L604.45,269.48 L604.80,270.36 L605.15,271.14 L605.50,272.47 L605.85,273.14 L606.00,273.97 L606.20,273.85 L606.55,274.78 L606.90,274.31 L607.25,275.14 L607.60,275.44 L607.95,274.74 L608.30,273.33 L608.65,272.42 L609.00,273.48 L609.35,273.62 L609.70,272.67 L610.05,271.91 L610.40,273.50 L610.75,275.29 L611.10,272.80 L611.45,274.45 L611.80,274.84 L612.15,271.72 L612.50,274.54 L612.85,273.79 L613.20,275.57 L613.55,273.71 L613.90,273.16 L614.25,273.64 L614.60,273.83 L614.95,273.25 L615.30,274.05 L615.65,272.31 L616.00,273.42 L616.35,274.65 L616.70,275.73 L617.05,275.14 L617.40,274.44 L617.75,275.08 L618.10,274.90 L618.45,275.56 L618.80,275.12 L619.15,273.91 L619.50,274.19 L619.85,274.34 L620.00,274.04 L620.20,273.92 L620.55,273.13 L620.90,271.75 L621.25,273.15 L621.60,271.22 L621.95,273.14 L622.30,272.83 L622.65,270.96 L623.00,273.16 L623.35,273.55 L623.70,272.81 L624.05,274.16 L624.40,274.20 L624.75,272.08 L625.10,274.33 L625.45,273.93 L625.80,274.24 L626.15,274.76 L626.50,272.55 L626.85,272.61 L627.20,272.32 L627.55,272.34 L627.90,272.84 L628.25,271.70 L628.60,271.97 L628.95,273.43 L629.30,272.79 L629.65,273.63 L630.00,271.37 L630.35,272.56 L630.70,272.73 L631.05,273.00 L631.40,272.29 L631.75,273.64 L632.10,272.24 L632.45,272.46 L632.80,272.38 L633.15,272.98 L633.50,271.73 L633.85,273.35 L634.20,272.78 L634.55,272.47 L634.90,272.37 L635.25,273.24 L635.60,273.34 L635.95,273.49 L636.30,272.56 L636.65,272.86 L637.00,272.28 L637.35,273.35 L637.70,271.93 L638.05,270.12 L638.40,273.09 L638.75,272.01 L639.10,270.11 L639.45,271.34 L639.80,270.72 L640.00,273.59 L640.15,272.19 L640.50,270.12 L640.85,272.46 L641.20,271.62 L641.55,273.52 L641.90,270.56 L642.25,269.77 L642.60,272.18 L642.95,271.55 L643.30,271.18 L643.65,269.44 L644.00,271.94 L644.35,273.29 L644.70,270.49 L645.05,273.97 L645.40,271.51 L645.75,274.59 L646.10,272.76 L646.45,272.25 L646.80,274.05 L647.15,273.18 L647.50,272.32 L647.85,273.28 L648.20,271.98 L648.55,271.27 L648.90,274.79 L649.25,272.75 L649.60,272.73 L649.95,273.39 L650.30,271.69 L650.65,271.79 L651.00,272.60 L651.35,272.90 L651.70,273.36 L652.05,274.64 L652.40,272.66 L652.75,273.46 L653.10,273.65 L653.45,271.72 L653.80,272.84 L654.15,271.64 L654.50,273.61 L654.85,272.92 L655.20,272.47 L655.55,271.61 L655.90,273.11 L656.25,271.86 L656.60,273.51 L656.95,272.98 L657.30,272.36 L657.65,274.16 L658.00,274.23 L658.35,272.94 L658.70,274.34 L659.05,272.74 L659.40,273.00 L659.75,273.43 L660.10,272.48 L660.45,272.93 L660.80,272.95 L661.15,274.53 L661.50,274.50 L661.85,272.51 L662.20,274.32 L662.55,272.60 L662.90,272.98 L663.25,273.33 L663.60,272.63 L663.95,274.63 L664.30,272.61 L664.65,271.17 L665.00,273.66 L665.35,272.12 L665.70,272.18 L666.05,269.90 L666.40,273.82 L666.75,273.63 L667.10,273.80 L667.45,273.83 L667.80,274.48 L668.15,273.38 L668.50,274.41 L668.50,273.12 L668.85,277.12 L669.20,281.04 L669.55,284.96 L669.90,288.88 L670.00,290.00 L670.25,292.92 L670.60,297.00 L670.95,301.08 L671.30,305.17 L671.65,309.25 L672.00,313.33 L672.35,317.42 L672.70,321.50 L673.05,325.58 L673.30,328.50 L673.40,330.04 L673.75,328.64 L674.10,329.91 L674.45,329.83 L674.80,330.35 L675.15,329.06 L675.50,328.70 L675.85,330.84 L676.20,330.96 L676.55,330.15 L676.90,329.13 L676.90,329.96 L677.25,334.14 L677.60,338.58 L677.95,343.02 L678.30,347.46 L678.50,350.00 L678.65,352.54 L679.00,358.47 L679.35,364.39 L679.70,370.32 L680.00,375.40 L680.05,373.67 L680.40,374.98 L680.75,375.85 L681.10,375.91 L681.45,376.89 L681.80,374.40 L682.15,374.17 L682.50,376.39 L682.85,376.67 L682.90,377.12 L683.20,378.41 L683.55,381.81 L683.90,385.21 L684.25,388.60 L684.60,392.00 L684.60,392.00 L684.95,392.93 L685.30,393.90 L685.65,394.69 L686.00,395.72 L686.35,396.34 L686.70,397.34 L687.00,397.04 L687.05,396.48 L687.40,398.88 L687.75,399.33 L688.10,398.56 L688.45,398.77 L688.80,399.21 L689.15,398.79 L689.50,400.94 L689.85,400.19 L690.20,400.75 L690.55,401.03 L690.90,401.75 L691.25,402.02 L691.60,402.45 L691.95,401.32 L692.30,403.05 L692.65,404.36 L693.00,402.82 L693.35,403.38 L693.70,404.19 L694.05,404.67 L694.40,404.51 L694.75,403.10 L695.00,404.62 L695.10,402.88 L695.45,403.53 L695.80,404.79 L696.15,403.88 L696.50,404.86 L696.85,407.19 L697.20,404.62 L697.55,404.08 L697.90,402.47 L698.25,402.56 L698.60,402.20 L698.95,402.62 L699.30,402.11 L699.65,402.77 L700.00,403.39 L700.35,402.93 L700.70,403.32 L701.05,403.38 L701.40,405.47 L701.75,404.80 L702.10,406.06 L702.45,406.16 L702.80,404.67 L703.15,405.04 L703.50,402.62 L703.85,405.66 L704.20,404.64 L704.55,402.94 L704.90,401.91 L705.25,403.36 L705.60,401.11 L705.95,402.25 L706.30,403.89 L706.65,403.45 L707.00,403.14 L707.35,404.59 L707.70,402.96 L708.05,404.72 L708.40,404.07 L708.75,403.58 L709.10,405.53 L709.45,404.53 L709.80,407.34 L710.15,404.90 L710.50,407.82 L710.85,404.46 L711.20,406.07 L711.55,404.17 L711.90,403.94 L712.25,405.01 L712.60,404.89 L712.95,402.94 L713.30,405.02 L713.65,403.27 L714.00,404.65 L714.35,405.06 L714.70,405.33 L715.05,403.29 L715.40,406.98 L715.75,406.44 L716.10,405.75 L716.45,405.37 L716.80,404.36 L717.15,404.30 L717.50,405.74 L717.85,404.59 L718.20,403.70 L718.55,404.27 L718.90,405.89 L719.25,404.18 L719.60,404.39 L719.95,406.17 L720.00,405.30 L720.30,405.13 L720.65,404.95 L721.00,403.94 L721.35,403.95 L721.70,404.98 L722.05,404.57 L722.40,404.92 L722.75,405.44 L723.10,405.31 L723.45,405.52 L723.80,404.30 L724.15,403.46 L724.50,405.30 L724.85,404.72 L725.20,405.39 L725.55,405.76 L725.90,404.91 L726.25,405.32 L726.60,406.27 L726.95,406.29 L727.30,405.33 L727.65,406.42 L728.00,406.20 L728.35,405.58 L728.70,406.65 L729.05,408.08 L729.40,405.55 L729.75,407.33 L730.10,407.71 L730.45,408.03 L730.80,406.21 L731.15,408.68 L731.50,407.16 L731.85,407.10 L732.20,407.32 L732.55,408.16 L732.90,407.61 L733.25,407.30 L733.60,408.67 L733.95,406.32 L734.30,406.19 L734.65,407.68 L735.00,407.52 L735.35,408.08 L735.70,405.32 L736.05,407.50 L736.40,406.80 L736.75,408.15 L737.10,405.33 L737.45,406.70 L737.80,406.53 L738.15,404.90 L738.50,405.67 L738.85,408.04 L739.20,406.16 L739.55,406.42 L739.90,407.96 L740.25,408.19 L740.60,408.08 L740.95,406.78 L741.30,407.77 L741.65,408.48 L741.80,406.71 L742.00,406.89 L742.35,408.24 L742.70,408.93 L743.05,406.13 L743.40,404.93 L743.75,405.34 L744.10,405.57 L744.45,406.61 L744.80,407.44 L745.15,406.91 L745.50,406.52 L745.85,407.29 L746.20,406.38 L746.55,407.21 L746.90,407.09 L747.25,410.49 L747.60,408.89 L747.95,407.46 L748.30,406.94 L748.65,407.42 L749.00,406.31 L749.00,407.12 L749.35,406.90 L749.70,407.39 L750.05,406.39 L750.40,405.69 L750.50,404.88 L750.75,406.16 L751.10,407.14 L751.45,407.71 L751.80,408.99 L752.00,408.50 L752.15,409.65 L752.50,412.33 L752.85,415.02 L753.20,417.70 L753.50,420.00 L753.55,420.37 L753.90,422.93 L754.25,425.50 L754.60,428.07 L754.95,430.63 L755.00,431.00 L755.30,430.79 L755.65,432.48 L756.00,432.19 L756.35,431.46 L756.70,431.70 L757.05,432.53 L757.40,432.34 L757.75,431.82 L758.10,433.98 L758.45,432.45 L758.80,431.99 L759.15,433.17 L759.50,432.79 L759.50,431.51 L759.85,434.65 L760.20,437.80 L760.55,440.95 L760.90,444.10 L761.00,445.00 L761.25,446.87 L761.60,449.48 L761.95,452.10 L762.30,454.71 L762.65,457.33 L762.70,457.70 L763.00,457.13 L763.35,458.62 L763.70,457.29 L764.05,457.75 L764.40,456.98 L764.75,458.70 L765.10,457.98 L765.45,457.30 L765.80,458.09 L765.80,458.00 L766.15,461.27 L766.50,464.04 L766.85,466.81 L767.00,468.00 L767.20,468.70 L767.55,469.92 L767.90,471.15 L768.25,472.37 L768.60,473.60 L768.95,474.82 L769.00,475.00 L769.30,475.90 L769.65,476.95 L770.00,478.00 L770.35,479.05 L770.70,480.10 L771.05,481.15 L771.40,482.20 L771.75,483.25 L772.00,483.73 L772.10,484.62 L772.45,484.29 L772.80,485.19 L773.15,486.32 L773.50,485.94 L773.85,486.88 L774.20,487.55 L774.55,487.51 L774.90,489.26 L775.25,489.35 L775.60,489.01 L775.95,490.38 L776.30,490.60 L776.65,491.11 L777.00,491.84 L777.20,491.68 L777.35,492.87 L777.70,491.85 L778.05,493.36 L778.40,492.35 L778.75,493.00 L779.10,491.68 L779.45,491.96 L779.80,491.80 L780.15,493.83 L780.50,494.27 L780.85,495.05 L781.20,494.34 L781.55,493.85 L781.90,493.72 L782.25,494.32 L782.60,494.22 L782.95,495.54 L783.30,495.06 L783.65,493.66 L784.00,493.80 L784.35,495.96 L784.70,494.77 L785.00,493.86 L785.05,495.36 L785.40,493.75 L785.75,494.23 L786.10,493.76 L786.45,492.16 L786.80,494.97 L787.15,493.23 L787.50,494.24 L787.85,494.29 L788.20,495.84 L788.55,495.00 L788.90,494.35 L789.25,492.83 L789.60,494.49 L789.95,493.26 L790.30,494.76 L790.65,495.09 L791.00,495.13 L791.35,497.40 L791.70,495.57 L792.05,495.88 L792.40,495.47 L792.75,494.88 L793.10,495.98 L793.45,495.85 L793.80,493.49 L794.15,495.75 L794.50,494.95 L794.85,495.67 L795.20,495.23 L795.55,493.29 L795.90,493.72 L796.25,496.70 L796.60,495.73 L796.95,493.63 L797.30,495.02 L797.65,494.48 L798.00,492.94 L798.35,492.69 L798.70,493.38 L799.05,494.70 L799.40,494.63 L799.75,493.94 L800.10,494.78 L800.45,494.97 L800.80,491.68 L801.15,493.57 L801.50,493.02 L801.85,492.73 L802.20,493.62 L802.55,494.11 L802.90,493.95 L803.25,492.48 L803.60,493.60 L803.95,496.38 L804.30,493.44 L804.65,492.61 L805.00,494.66 L805.35,495.35 L805.70,494.72 L806.05,493.22 L806.40,495.34 L806.75,493.62 L807.10,493.41 L807.45,493.40 L807.80,494.16 L808.15,495.02 L808.50,494.77 L808.85,494.20 L809.20,495.38 L809.55,494.52 L809.90,495.56 L810.25,493.20 L810.60,493.55 L810.95,495.67 L811.30,493.66 L811.65,494.34 L812.00,494.62 L812.35,494.33 L812.70,494.18 L813.05,496.06 L813.40,491.95 L813.75,495.22 L814.10,496.54 L814.45,493.93 L814.80,494.37 L815.15,495.29 L815.50,496.23 L815.85,493.94 L816.20,495.08 L816.55,494.86 L816.90,495.77 L817.25,495.71 L817.60,496.54 L817.95,495.78 L818.30,496.09 L818.65,495.66 L819.00,495.48 L819.35,496.01 L819.70,496.25 L820.05,494.47 L820.40,496.93 L820.75,495.36 L821.10,493.43 L821.45,495.99 L821.80,494.01 L822.15,495.15 L822.50,494.95 L822.85,494.84 L823.20,495.35 L823.55,494.90 L823.90,494.92 L824.25,497.24 L824.60,493.47 L824.95,495.96 L825.30,496.33 L825.65,494.04 L826.00,494.05 L826.35,497.63 L826.70,494.89 L827.05,497.58 L827.40,496.65 L827.75,495.80 L828.10,495.76 L828.45,495.87 L828.80,496.86 L829.15,496.09 L829.50,495.72 L829.85,495.97 L830.20,497.20 L830.55,495.85 L830.90,494.06 L831.25,494.71 L831.60,495.54 L831.95,494.89 L832.30,495.35 L832.65,494.60 L833.00,495.21 L833.35,496.24 L833.70,497.34 L834.05,496.39 L834.40,498.53 L834.75,496.36 L835.10,499.11 L835.45,496.90 L835.80,496.64 L836.00,495.52 L836.15,496.21 L836.50,497.87 L836.85,499.54 L837.20,501.20 L837.55,502.86 L837.90,504.52 L838.00,505.00 L838.25,506.62 L838.60,508.88 L838.95,511.15 L839.30,513.41 L839.65,515.68 L840.00,517.94 L840.35,520.21 L840.70,522.47 L841.05,524.74 L841.40,527.00 L841.40,527.00 L841.75,528.31 L842.10,527.34 L842.45,526.18 L842.80,526.43 L843.15,528.85 L843.50,528.67 L843.85,528.24 L844.20,528.02 L844.55,528.71 L844.60,528.73 L844.90,531.19 L845.25,534.21 L845.60,537.23 L845.95,540.25 L846.30,543.27 L846.50,545.00 L846.65,545.54 L847.00,546.79 L847.35,548.04 L847.70,549.29 L848.05,550.55 L848.40,551.80 L848.75,553.05 L849.10,554.31 L849.45,555.56 L849.80,556.81 L850.15,558.06 L850.30,558.27 L850.50,558.69 L850.85,557.61 L851.20,556.94 L851.55,557.74 L851.90,558.81 L852.25,559.26 L852.60,558.61 L852.80,559.23 L852.95,559.61 L853.30,561.05 L853.65,562.48 L854.00,563.91 L854.35,565.34 L854.70,566.77 L855.00,568.08 L855.05,568.30 L855.40,568.88 L855.75,569.43 L856.10,570.36 L856.45,571.62 L856.80,572.23 L857.15,573.24 L857.50,573.75 L857.85,574.71 L858.10,575.75 L858.20,575.34 L858.55,573.76 L858.90,574.20 L859.25,574.40 L859.60,573.23 L859.95,574.83 L860.30,575.12 L860.65,573.80 L861.00,576.17 L861.35,574.43 L861.70,574.49 L862.05,574.19 L862.40,573.94 L862.75,575.34 L863.10,574.99 L863.45,576.70 L863.80,575.47 L864.15,575.65 L864.50,575.00 L864.85,574.02 L865.20,575.84 L865.55,575.18 L865.90,577.20 L866.25,576.26 L866.60,578.12 L866.95,577.28 L867.30,577.24 L867.65,576.87 L868.00,576.71 L868.35,576.90 L868.70,577.01 L869.05,575.22 L869.40,576.30 L869.75,578.14 L870.00,575.03 L870.10,574.89 L870.45,573.68 L870.80,572.97 L871.15,575.68 L871.50,574.84 L871.85,575.41 L872.20,576.98 L872.55,577.76 L872.90,574.52 L873.25,576.25 L873.60,576.14 L873.95,575.46 L874.30,575.53 L874.65,574.80 L875.00,576.22 L875.35,575.11 L875.70,574.96 L876.05,575.95 L876.40,575.66 L876.75,574.88 L877.10,575.17 L877.45,576.88 L877.80,575.67 L878.15,575.02 L878.50,574.12 L878.85,574.90 L879.20,574.18 L879.55,575.59 L879.90,576.10 L880.25,573.58 L880.60,575.55 L880.95,576.15 L881.30,575.64 L881.65,574.79 L882.00,576.73 L882.35,574.84 L882.70,574.25 L883.05,574.29 L883.40,575.56 L883.75,576.23 L884.10,576.12 L884.45,575.00 L884.80,573.41 L885.15,573.95 L885.50,574.02 L885.85,574.32 L886.20,572.82 L886.55,574.27 L886.90,574.73 L887.25,574.12 L887.60,574.43 L887.95,572.76 L888.30,572.27 L888.65,572.88 L889.00,574.98 L889.35,574.67 L889.70,574.03 L890.05,575.86 L890.40,574.26 L890.75,576.86 L891.10,576.31 L891.45,575.28 L891.80,576.74 L892.15,575.22 L892.50,575.34 L892.85,574.46 L893.20,576.00 L893.55,576.04 L893.90,575.72 L894.25,575.07 L894.60,576.85 L894.95,574.94 L895.30,574.54 L895.65,576.39 L896.00,576.65 L896.35,575.79 L896.70,573.23 L897.05,574.46 L897.40,576.05 L897.75,575.77 L898.10,577.44 L898.45,574.66 L898.80,576.84 L899.15,575.72 L899.50,577.59 L899.85,576.82 L900.20,578.14 L900.55,576.43 L900.90,575.86 L901.25,576.01 L901.60,576.27 L901.95,575.93 L902.30,577.91 L902.65,578.18 L903.00,576.81 L903.35,575.43 L903.70,576.30 L904.05,575.24 L904.40,577.31 L904.75,576.48 L905.10,576.29 L905.45,575.26 L905.80,573.49 L906.15,574.58 L906.50,574.04 L906.85,575.62 L907.20,575.85 L907.55,575.09 L907.90,575.56 L908.25,577.87 L908.60,575.69 L908.95,575.74 L909.30,576.68 L909.65,576.20 L910.00,576.25 L910.35,576.75 L910.70,577.62 L911.05,573.86 L911.40,575.16 L911.75,575.06 L912.10,575.01 L912.45,574.79 L912.80,574.64 L913.15,576.15 L913.50,574.65 L913.85,575.07 L914.20,574.94 L914.55,574.85 L914.90,574.10 L915.25,575.57 L915.60,574.19 L915.95,574.39 L916.30,574.32 L916.65,573.39 L917.00,573.90 L917.35,574.35 L917.70,576.21 L918.05,576.14 L918.40,575.61 L918.75,577.13 L919.10,577.42 L919.45,574.77 L919.80,578.05 L920.15,575.83 L920.50,575.78 L920.85,576.67 L921.20,575.21 L921.55,574.42 L921.90,577.36 L922.00,573.99" fill="none" stroke="#000" stroke-width="3.8" stroke-linejoin="round" stroke-linecap="round" />
</g>
<rect x="108.2" y="4.2" width="813.70" height="599.00" fill="none" stroke="#000" stroke-width="2.3"/>
<path d="M108.2,577.30h10.5M921.9,577.30h-10.5M108.2,549.35h5.2M921.9,549.35h-5.2M108.2,521.40h10.5M921.9,521.40h-10.5M108.2,493.45h5.2M921.9,493.45h-5.2M108.2,465.50h10.5M921.9,465.50h-10.5M108.2,437.55h5.2M921.9,437.55h-5.2M108.2,409.60h10.5M921.9,409.60h-10.5M108.2,381.65h5.2M921.9,381.65h-5.2M108.2,353.70h10.5M921.9,353.70h-10.5M108.2,325.75h5.2M921.9,325.75h-5.2M108.2,297.80h10.5M921.9,297.80h-10.5M108.2,269.85h5.2M921.9,269.85h-5.2M108.2,241.90h10.5M921.9,241.90h-10.5M108.2,213.95h5.2M921.9,213.95h-5.2M108.2,186.00h10.5M921.9,186.00h-10.5M108.2,158.05h5.2M921.9,158.05h-5.2M108.2,130.10h10.5M921.9,130.10h-10.5M108.2,102.15h5.2M921.9,102.15h-5.2M108.2,74.20h10.5M921.9,74.20h-10.5M108.2,46.25h5.2M921.9,46.25h-5.2M108.2,18.30h10.5M921.9,18.30h-10.5M108.10,603.2v-10.5M108.10,4.2v10.5M168.82,603.2v-5.2M168.82,4.2v5.2M229.55,603.2v-10.5M229.55,4.2v10.5M290.27,603.2v-5.2M290.27,4.2v5.2M351.00,603.2v-10.5M351.00,4.2v10.5M411.73,603.2v-5.2M411.73,4.2v5.2M472.45,603.2v-10.5M472.45,4.2v10.5M533.17,603.2v-5.2M533.17,4.2v5.2M593.90,603.2v-10.5M593.90,4.2v10.5M654.62,603.2v-5.2M654.62,4.2v5.2M715.35,603.2v-10.5M715.35,4.2v10.5M776.08,603.2v-5.2M776.08,4.2v5.2M836.80,603.2v-10.5M836.80,4.2v10.5M897.52,603.2v-5.2M897.52,4.2v5.2" stroke="#000" stroke-width="2.2" fill="none"/>
<text x="102.30" y="585.10" font-size="24.3" text-anchor="end" font-family="'Liberation Sans', Arial, sans-serif" stroke="#000" stroke-width="0.3" >0</text>
<text x="102.30" y="529.20" font-size="24.3" text-anchor="end" font-family="'Liberation Sans', Arial, sans-serif" stroke="#000" stroke-width="0.3" >200</text>
<text x="102.30" y="473.30" font-size="24.3" text-anchor="end" font-family="'Liberation Sans', Arial, sans-serif" stroke="#000" stroke-width="0.3" >400</text>
<text x="102.30" y="417.40" font-size="24.3" text-anchor="end" font-family="'Liberation Sans', Arial, sans-serif" stroke="#000" stroke-width="0.3" >600</text>
<text x="102.30" y="361.50" font-size="24.3" text-anchor="end" font-family="'Liberation Sans', Arial, sans-serif" stroke="#000" stroke-width="0.3" >800</text>
<text x="102.30" y="305.60" font-size="24.3" text-anchor="end" font-family="'Liberation Sans', Arial, sans-serif" stroke="#000" stroke-width="0.3" >1000</text>
<text x="102.30" y="249.70" font-size="24.3" text-anchor="end" font-family="'Liberation Sans', Arial, sans-serif" stroke="#000" stroke-width="0.3" >1200</text>
<text x="102.30" y="193.80" font-size="24.3" text-anchor="end" font-family="'Liberation Sans', Arial, sans-serif" stroke="#000" stroke-width="0.3" >1400</text>
<text x="102.30" y="137.90" font-size="24.3" text-anchor="end" font-family="'Liberation Sans', Arial, sans-serif" stroke="#000" stroke-width="0.3" >1600</text>
<text x="102.30" y="82.00" font-size="24.3" text-anchor="end" font-family="'Liberation Sans', Arial, sans-serif" stroke="#000" stroke-width="0.3" >1800</text>
<text x="102.30" y="26.10" font-size="24.3" text-anchor="end" font-family="'Liberation Sans', Arial, sans-serif" stroke="#000" stroke-width="0.3" >2000</text>
<text x="108.30" y="626.00" font-size="24.3" text-anchor="middle" font-family="'Liberation Sans', Arial, sans-serif" stroke="#000" stroke-width="0.3" >0</text>
<text x="229.75" y="626.00" font-size="24.3" text-anchor="middle" font-family="'Liberation Sans', Arial, sans-serif" stroke="#000" stroke-width="0.3" >10</text>
<text x="351.20" y="626.00" font-size="24.3" text-anchor="middle" font-family="'Liberation Sans', Arial, sans-serif" stroke="#000" stroke-width="0.3" >20</text>
<text x="472.65" y="626.00" font-size="24.3" text-anchor="middle" font-family="'Liberation Sans', Arial, sans-serif" stroke="#000" stroke-width="0.3" >30</text>
<text x="594.10" y="626.00" font-size="24.3" text-anchor="middle" font-family="'Liberation Sans', Arial, sans-serif" stroke="#000" stroke-width="0.3" >40</text>
<text x="715.55" y="626.00" font-size="24.3" text-anchor="middle" font-family="'Liberation Sans', Arial, sans-serif" stroke="#000" stroke-width="0.3" >50</text>
<text x="837.00" y="626.00" font-size="24.3" text-anchor="middle" font-family="'Liberation Sans', Arial, sans-serif" stroke="#000" stroke-width="0.3" >60</text>
<text x="515.10" y="651.00" font-size="30" text-anchor="middle" font-family="'Liberation Sans', Arial, sans-serif" stroke="#000" stroke-width="0.3" >Time (s)</text>
<text x="131.00" y="46.50" font-size="28.5" text-anchor="start" font-family="'Liberation Sans', Arial, sans-serif" stroke="#000" stroke-width="0.3" letter-spacing="1.1">(a)</text>
<text transform="translate(25.9,337.5) rotate(-90)" font-size="29" textLength="18.3" lengthAdjust="spacingAndGlyphs" font-family="'Noto Serif CJK SC', 'Liberation Serif', serif" font-weight="300">Δ</text>
<text transform="translate(26.4,316.1) rotate(-90)" font-size="27.5" textLength="17.1" lengthAdjust="spacingAndGlyphs" font-family="'Noto Serif CJK SC', 'Liberation Serif', serif" font-weight="300" font-style="italic">λ</text>
<text transform="translate(26.1,272.1) rotate(-90)" font-size="28.2" font-family="'Liberation Sans', Arial, sans-serif" stroke="#000" stroke-width="0.3">(pm)</text>
<line x1="615" y1="33.7" x2="670.8" y2="33.7" stroke="#0000ff" stroke-width="3.0"/>
<text x="676.80" y="42.60" font-size="24" text-anchor="start" font-family="'Liberation Sans', Arial, sans-serif" stroke="#000" stroke-width="0.3" >TCF2</text>
<line x1="741.3" y1="33.7" x2="796.5" y2="33.7" stroke="#000" stroke-width="3.0"/>
<text x="803.00" y="42.60" font-size="24" text-anchor="start" font-family="'Liberation Sans', Arial, sans-serif" stroke="#000" stroke-width="0.3" >TCF3</text>
<text x="963.20" y="70.90" font-size="24.3" text-anchor="start" font-family="'Liberation Sans', Arial, sans-serif" stroke="#000" stroke-width="0.3" >1030,93</text>
<text x="1056.90" y="72.00" font-size="24.2" textLength="18.75" lengthAdjust="spacingAndGlyphs" font-family="'Noto Serif CJK SC', 'Liberation Serif', serif" font-weight="300" font-style="italic">μ</text>
<text x="1077.60" y="72.00" font-size="24.2" textLength="10.9" lengthAdjust="spacingAndGlyphs" font-family="'Noto Serif CJK SC', 'Liberation Serif', serif" font-weight="300" font-style="italic">ε</text>
<text x="965.00" y="284.50" font-size="24.3" text-anchor="start" font-family="'Liberation Sans', Arial, sans-serif" stroke="#000" stroke-width="0.3" >773,2</text>
<text x="1031.80" y="285.60" font-size="24.2" textLength="18.75" lengthAdjust="spacingAndGlyphs" font-family="'Noto Serif CJK SC', 'Liberation Serif', serif" font-weight="300" font-style="italic">μ</text>
<text x="1052.80" y="285.60" font-size="24.2" textLength="10.9" lengthAdjust="spacingAndGlyphs" font-family="'Noto Serif CJK SC', 'Liberation Serif', serif" font-weight="300" font-style="italic">ε</text>
<text x="967.30" y="418.20" font-size="24.3" text-anchor="start" font-family="'Liberation Sans', Arial, sans-serif" stroke="#000" stroke-width="0.3" >515,46</text>
<text x="1047.00" y="419.30" font-size="24.2" textLength="18.75" lengthAdjust="spacingAndGlyphs" font-family="'Noto Serif CJK SC', 'Liberation Serif', serif" font-weight="300" font-style="italic">μ</text>
<text x="1068.40" y="419.30" font-size="24.2" textLength="10.9" lengthAdjust="spacingAndGlyphs" font-family="'Noto Serif CJK SC', 'Liberation Serif', serif" font-weight="300" font-style="italic">ε</text>
<text x="963.10" y="499.70" font-size="24.3" text-anchor="start" font-family="'Liberation Sans', Arial, sans-serif" stroke="#000" stroke-width="0.3" >257,73</text>
<text x="1044.40" y="500.80" font-size="24.2" textLength="18.75" lengthAdjust="spacingAndGlyphs" font-family="'Noto Serif CJK SC', 'Liberation Serif', serif" font-weight="300" font-style="italic">μ</text>
<text x="1065.50" y="500.80" font-size="24.2" textLength="10.9" lengthAdjust="spacingAndGlyphs" font-family="'Noto Serif CJK SC', 'Liberation Serif', serif" font-weight="300" font-style="italic">ε</text>
<text x="965.60" y="583.80" font-size="24.3" text-anchor="start" font-family="'Liberation Sans', Arial, sans-serif" stroke="#000" stroke-width="0.3" >0</text>
<text x="986.60" y="584.90" font-size="24.2" textLength="18.75" lengthAdjust="spacingAndGlyphs" font-family="'Noto Serif CJK SC', 'Liberation Serif', serif" font-weight="300" font-style="italic">μ</text>
<text x="1006.70" y="584.90" font-size="24.2" textLength="10.9" lengthAdjust="spacingAndGlyphs" font-family="'Noto Serif CJK SC', 'Liberation Serif', serif" font-weight="300" font-style="italic">ε</text>
<clipPath id="cb"><rect x="1172.4" y="4.5" width="813.6999999999998" height="597.8"/></clipPath>
<path d="M1172.4,602.30h10.5M1986.1,602.30h-10.5M1172.4,547.96h5.2M1986.1,547.96h-5.2M1172.4,493.62h10.5M1986.1,493.62h-10.5M1172.4,439.28h5.2M1986.1,439.28h-5.2M1172.4,384.94h10.5M1986.1,384.94h-10.5M1172.4,330.60h5.2M1986.1,330.60h-5.2M1172.4,276.26h10.5M1986.1,276.26h-10.5M1172.4,221.92h5.2M1986.1,221.92h-5.2M1172.4,167.58h10.5M1986.1,167.58h-10.5M1172.4,113.24h5.2M1986.1,113.24h-5.2M1172.4,58.90h10.5M1986.1,58.90h-10.5M1172.40,602.3v-10.5M1172.40,4.5v10.5M1223.26,602.3v-5.2M1223.26,4.5v5.2M1274.12,602.3v-10.5M1274.12,4.5v10.5M1324.99,602.3v-5.2M1324.99,4.5v5.2M1375.85,602.3v-10.5M1375.85,4.5v10.5M1426.71,602.3v-5.2M1426.71,4.5v5.2M1477.58,602.3v-10.5M1477.58,4.5v10.5M1528.44,602.3v-5.2M1528.44,4.5v5.2M1579.30,602.3v-10.5M1579.30,4.5v10.5M1630.16,602.3v-5.2M1630.16,4.5v5.2M1681.03,602.3v-10.5M1681.03,4.5v10.5M1731.89,602.3v-5.2M1731.89,4.5v5.2M1782.75,602.3v-10.5M1782.75,4.5v10.5M1833.61,602.3v-5.2M1833.61,4.5v5.2M1884.47,602.3v-10.5M1884.47,4.5v10.5M1935.34,602.3v-5.2M1935.34,4.5v5.2M1986.20,602.3v-10.5M1986.20,4.5v10.5" stroke="#000" stroke-width="2.2" fill="none"/>
<g clip-path="url(#cb)">
<path d="M1172.60,594.50 L1174.80,593.60 L1177.50,595.80 L1181.50,598.60 L1190.00,599.60 L1200.00,599.80 L1215.00,600.10 L1232.00,600.30 L1260.00,601.00 L1300.00,601.50 L1373.60,601.80 L1375.00,592.00 L1376.00,581.00 L1377.00,592.00 L1378.40,601.80 L1986.00,601.80" fill="none" stroke="#000" stroke-width="3.0" stroke-linejoin="round" stroke-linecap="round" />
<path d="M1172.90,594.20 L1175.70,536.40 L1179.90,524.00 L1181.50,543.00 L1184.00,577.70 L1191.40,569.40 L1195.60,581.00 L1199.40,596.70 L1207.10,588.40 L1214.60,595.50 L1218.70,590.10 L1226.50,595.90 L1231.10,590.60 L1238.60,594.50 L1246.00,592.20 L1249.30,594.20 L1254.30,591.70 L1260.90,593.90 L1265.00,591.70 L1272.00,593.50 L1278.00,592.50 L1284.80,590.70 L1291.00,592.30 L1300.00,589.60 L1305.00,590.60 L1311.30,587.30 L1317.00,587.30 L1324.50,585.00 L1330.20,583.90 L1335.00,581.50 L1339.70,578.80 L1345.30,575.00 L1349.00,570.00 L1352.90,564.60 L1358.00,555.50 L1361.20,545.00 L1364.00,533.00 L1366.10,522.00 L1368.00,508.00 L1369.30,489.00 L1370.40,462.50 L1371.10,413.00 L1371.70,380.00 L1372.20,300.00 L1374.50,219.00 L1375.50,140.00 L1376.50,90.00 L1377.40,66.50 L1378.30,90.00 L1378.80,140.00 L1380.00,219.00 L1379.60,300.00 L1379.80,380.00 L1380.20,413.00 L1381.00,446.00 L1381.50,462.00 L1383.30,489.00 L1386.60,522.00 L1390.50,545.00 L1394.20,555.00 L1399.00,565.00 L1405.70,576.40 L1408.10,579.30 L1412.60,581.10 L1419.70,586.00 L1431.40,590.10 L1443.10,592.10 L1450.30,591.90 L1455.70,593.70 L1468.20,593.90 L1477.20,595.50 L1491.60,595.20 L1497.00,596.40 L1507.70,596.40 L1513.10,597.30 L1528.40,596.60 L1537.30,596.80 L1543.60,595.70 L1558.90,595.90 L1563.40,593.20 L1566.50,591.50 L1570.60,590.10 L1574.10,583.30 L1575.50,569.00 L1577.10,548.40 L1578.70,497.60 L1581.40,538.60 L1584.00,577.70 L1586.90,593.30 L1591.80,598.80 L1598.60,600.30 L1604.50,601.60 L1650.00,601.90 L1700.00,601.90 L1760.00,601.60 L1768.00,600.80 L1774.70,599.20 L1779.40,594.70 L1781.50,571.50 L1783.30,564.70 L1786.30,582.00 L1788.40,594.70 L1793.60,598.00 L1813.60,599.60 L1850.00,600.50 L1900.00,600.80 L1950.00,600.70 L1978.20,600.30 L1981.00,597.50 L1984.80,593.70 L1986.50,592.50" fill="none" stroke="#0000ff" stroke-width="4.0" stroke-linejoin="round" stroke-linecap="round" />
</g>
<rect x="1172.4" y="4.5" width="813.70" height="597.80" fill="none" stroke="#000" stroke-width="2.3"/>
<text x="1167.90" y="609.80" font-size="24.3" text-anchor="end" font-family="'Liberation Sans', Arial, sans-serif" stroke="#000" stroke-width="0.3" >0</text>
<text x="1167.90" y="501.12" font-size="24.3" text-anchor="end" font-family="'Liberation Sans', Arial, sans-serif" stroke="#000" stroke-width="0.3" >50</text>
<text x="1167.90" y="392.44" font-size="24.3" text-anchor="end" font-family="'Liberation Sans', Arial, sans-serif" stroke="#000" stroke-width="0.3" >100</text>
<text x="1167.90" y="283.76" font-size="24.3" text-anchor="end" font-family="'Liberation Sans', Arial, sans-serif" stroke="#000" stroke-width="0.3" >150</text>
<text x="1167.90" y="175.08" font-size="24.3" text-anchor="end" font-family="'Liberation Sans', Arial, sans-serif" stroke="#000" stroke-width="0.3" >200</text>
<text x="1167.90" y="66.40" font-size="24.3" text-anchor="end" font-family="'Liberation Sans', Arial, sans-serif" stroke="#000" stroke-width="0.3" >250</text>
<text x="1172.70" y="628.00" font-size="24.3" text-anchor="middle" font-family="'Liberation Sans', Arial, sans-serif" stroke="#000" stroke-width="0.3" >0,0</text>
<text x="1274.42" y="628.00" font-size="24.3" text-anchor="middle" font-family="'Liberation Sans', Arial, sans-serif" stroke="#000" stroke-width="0.3" >0,5</text>
<text x="1376.15" y="628.00" font-size="24.3" text-anchor="middle" font-family="'Liberation Sans', Arial, sans-serif" stroke="#000" stroke-width="0.3" >1,0</text>
<text x="1477.88" y="628.00" font-size="24.3" text-anchor="middle" font-family="'Liberation Sans', Arial, sans-serif" stroke="#000" stroke-width="0.3" >1,5</text>
<text x="1579.60" y="628.00" font-size="24.3" text-anchor="middle" font-family="'Liberation Sans', Arial, sans-serif" stroke="#000" stroke-width="0.3" >2,0</text>
<text x="1681.33" y="628.00" font-size="24.3" text-anchor="middle" font-family="'Liberation Sans', Arial, sans-serif" stroke="#000" stroke-width="0.3" >2,5</text>
<text x="1783.05" y="628.00" font-size="24.3" text-anchor="middle" font-family="'Liberation Sans', Arial, sans-serif" stroke="#000" stroke-width="0.3" >3,0</text>
<text x="1884.77" y="628.00" font-size="24.3" text-anchor="middle" font-family="'Liberation Sans', Arial, sans-serif" stroke="#000" stroke-width="0.3" >3,5</text>
<text x="1986.50" y="628.00" font-size="24.3" text-anchor="middle" font-family="'Liberation Sans', Arial, sans-serif" stroke="#000" stroke-width="0.3" >4,0</text>
<text x="1579.10" y="655.50" font-size="29.6" text-anchor="middle" font-family="'Liberation Sans', Arial, sans-serif" stroke="#000" stroke-width="0.3" >Frequency (Hz)</text>
<text transform="translate(1121.8,381) rotate(-90)" font-size="30.4" font-family="'Liberation Sans', Arial, sans-serif" stroke="#000" stroke-width="0.3">FFT Amplitude</text>
<text x="1199.50" y="48.30" font-size="28.5" text-anchor="start" font-family="'Liberation Sans', Arial, sans-serif" stroke="#000" stroke-width="0.3" letter-spacing="1.1">(b)</text>
<line x1="1610" y1="520.2" x2="1675" y2="520.2" stroke="#000" stroke-width="5" stroke-linecap="round"/>
<text x="1684.50" y="530.00" font-size="29.4" text-anchor="start" font-family="'Liberation Sans', Arial, sans-serif" stroke="#000" stroke-width="0.3" >TCF2</text>
<line x1="1765" y1="520.2" x2="1830" y2="520.2" stroke="#0000ff" stroke-width="4.2" stroke-linecap="round"/>
<text x="1839.60" y="530.00" font-size="29.4" text-anchor="start" font-family="'Liberation Sans', Arial, sans-serif" stroke="#000" stroke-width="0.3" >TCF3</text>
<rect x="1444.5" y="17.0" width="525.0" height="366.10" fill="#fff" stroke="none"/>
<clipPath id="ci"><rect x="1444.5" y="17.0" width="525.0" height="366.10"/></clipPath>
<g clip-path="url(#ci)">
<path d="M1444.50,398.00 L1445.20,383.00 L1447.50,310.00 L1449.50,240.00 L1451.00,180.00 L1453.00,125.00 L1455.00,80.00 L1457.00,50.00 L1459.30,33.00 L1462.00,27.50 L1462.66,28.22 L1463.32,30.38 L1463.97,33.94 L1464.63,38.87 L1465.29,45.11 L1465.94,52.57 L1466.60,61.18 L1467.26,70.84 L1467.92,81.43 L1468.58,92.84 L1469.23,104.96 L1469.89,117.65 L1470.55,130.80 L1471.20,144.29 L1471.86,157.98 L1472.52,171.78 L1473.18,185.56 L1473.84,199.23 L1474.49,212.70 L1475.15,225.87 L1475.81,238.68 L1476.46,251.04 L1477.12,262.92 L1477.78,274.24 L1478.44,284.98 L1479.10,295.09 L1479.75,304.56 L1480.41,313.35 L1481.07,321.45 L1481.72,328.86 L1482.38,335.56 L1483.04,341.55 L1483.70,346.83 L1484.36,351.40 L1485.01,355.26 L1485.67,358.41 L1486.33,360.86 L1486.98,362.60 L1487.64,363.65 L1488.30,364.00 L1488.96,363.76 L1489.62,363.03 L1490.28,361.81 L1490.94,360.09 L1491.60,357.87 L1492.26,355.13 L1492.92,351.86 L1493.58,348.04 L1494.24,343.66 L1494.90,338.70 L1495.56,333.13 L1496.22,326.95 L1496.88,320.12 L1497.54,312.65 L1498.20,304.50 L1498.86,295.67 L1499.52,286.15 L1500.18,275.95 L1500.84,265.07 L1501.50,253.53 L1502.16,241.36 L1502.82,228.60 L1503.48,215.30 L1504.14,201.56 L1504.80,187.44 L1505.46,173.06 L1506.12,158.55 L1506.78,144.05 L1507.44,129.72 L1508.10,115.74 L1508.76,102.28 L1509.42,89.55 L1510.08,77.73 L1510.74,67.02 L1511.40,57.61 L1512.06,49.64 L1512.72,43.29 L1513.38,38.66 L1514.04,35.84 L1514.70,34.90 L1515.35,35.61 L1516.00,37.74 L1516.64,41.26 L1517.29,46.12 L1517.94,52.28 L1518.59,59.65 L1519.23,68.14 L1519.88,77.67 L1520.53,88.12 L1521.17,99.39 L1521.82,111.35 L1522.47,123.87 L1523.12,136.85 L1523.77,150.16 L1524.41,163.68 L1525.06,177.29 L1525.71,190.89 L1526.36,204.39 L1527.00,217.68 L1527.65,230.68 L1528.30,243.31 L1528.94,255.52 L1529.59,267.24 L1530.24,278.42 L1530.89,289.01 L1531.53,298.99 L1532.18,308.34 L1532.83,317.01 L1533.48,325.01 L1534.12,332.32 L1534.77,338.93 L1535.42,344.84 L1536.07,350.05 L1536.71,354.56 L1537.36,358.37 L1538.01,361.48 L1538.66,363.90 L1539.30,365.62 L1539.95,366.66 L1540.60,367.00 L1541.26,366.75 L1541.93,366.00 L1542.60,364.74 L1543.26,362.98 L1543.92,360.69 L1544.59,357.87 L1545.25,354.50 L1545.92,350.58 L1546.59,346.07 L1547.25,340.96 L1547.91,335.23 L1548.58,328.87 L1549.24,321.84 L1549.91,314.15 L1550.58,305.76 L1551.24,296.68 L1551.90,286.88 L1552.57,276.38 L1553.23,265.18 L1553.90,253.31 L1554.57,240.78 L1555.23,227.65 L1555.89,213.97 L1556.56,199.82 L1557.22,185.29 L1557.89,170.49 L1558.56,155.56 L1559.22,140.63 L1559.88,125.89 L1560.55,111.49 L1561.21,97.65 L1561.88,84.54 L1562.55,72.38 L1563.21,61.36 L1563.88,51.67 L1564.54,43.47 L1565.20,36.93 L1565.87,32.17 L1566.54,29.27 L1567.20,28.30 L1567.85,29.02 L1568.50,31.17 L1569.14,34.74 L1569.79,39.66 L1570.44,45.89 L1571.09,53.34 L1571.73,61.94 L1572.38,71.59 L1573.03,82.17 L1573.67,93.57 L1574.32,105.67 L1574.97,118.35 L1575.62,131.48 L1576.27,144.95 L1576.91,158.63 L1577.56,172.41 L1578.21,186.17 L1578.86,199.83 L1579.50,213.28 L1580.15,226.44 L1580.80,239.23 L1581.44,251.58 L1582.09,263.44 L1582.74,274.75 L1583.39,285.47 L1584.03,295.58 L1584.68,305.03 L1585.33,313.81 L1585.98,321.90 L1586.62,329.30 L1587.27,335.99 L1587.92,341.98 L1588.57,347.25 L1589.21,351.81 L1589.86,355.67 L1590.51,358.81 L1591.16,361.26 L1591.80,363.01 L1592.45,364.05 L1593.10,364.40 L1593.76,364.15 L1594.43,363.42 L1595.10,362.18 L1595.76,360.44 L1596.42,358.19 L1597.09,355.41 L1597.75,352.09 L1598.42,348.22 L1599.09,343.78 L1599.75,338.75 L1600.41,333.11 L1601.08,326.84 L1601.74,319.92 L1602.41,312.34 L1603.08,304.08 L1603.74,295.13 L1604.40,285.49 L1605.07,275.15 L1605.73,264.12 L1606.40,252.42 L1607.07,240.08 L1607.73,227.14 L1608.39,213.67 L1609.06,199.73 L1609.72,185.42 L1610.39,170.85 L1611.06,156.14 L1611.72,141.44 L1612.38,126.92 L1613.05,112.74 L1613.71,99.10 L1614.38,86.20 L1615.05,74.22 L1615.71,63.36 L1616.38,53.82 L1617.04,45.75 L1617.70,39.30 L1618.37,34.61 L1619.04,31.76 L1619.70,30.80 L1620.36,31.51 L1621.02,33.64 L1621.67,37.16 L1622.33,42.03 L1622.99,48.19 L1623.64,55.56 L1624.30,64.06 L1624.96,73.60 L1625.62,84.06 L1626.28,95.33 L1626.93,107.29 L1627.59,119.83 L1628.25,132.81 L1628.90,146.13 L1629.56,159.65 L1630.22,173.28 L1630.88,186.89 L1631.54,200.39 L1632.19,213.69 L1632.85,226.70 L1633.51,239.34 L1634.16,251.55 L1634.82,263.28 L1635.48,274.46 L1636.14,285.07 L1636.80,295.05 L1637.45,304.40 L1638.11,313.08 L1638.77,321.09 L1639.42,328.40 L1640.08,335.01 L1640.74,340.93 L1641.40,346.14 L1642.06,350.65 L1642.71,354.46 L1643.37,357.58 L1644.03,360.00 L1644.68,361.72 L1645.34,362.76 L1646.00,363.10 L1646.65,362.85 L1647.31,362.12 L1647.96,360.88 L1648.61,359.14 L1649.26,356.90 L1649.91,354.12 L1650.57,350.81 L1651.22,346.95 L1651.87,342.51 L1652.53,337.49 L1653.18,331.86 L1653.83,325.60 L1654.48,318.69 L1655.13,311.12 L1655.79,302.87 L1656.44,293.94 L1657.09,284.31 L1657.74,273.98 L1658.40,262.97 L1659.05,251.29 L1659.70,238.97 L1660.36,226.05 L1661.01,212.60 L1661.66,198.68 L1662.31,184.39 L1662.96,169.84 L1663.62,155.15 L1664.27,140.48 L1664.92,125.97 L1665.57,111.82 L1666.23,98.20 L1666.88,85.31 L1667.53,73.35 L1668.18,62.51 L1668.84,52.98 L1669.49,44.92 L1670.14,38.49 L1670.79,33.81 L1671.45,30.96 L1672.10,30.00 L1672.76,30.71 L1673.42,32.85 L1674.08,36.38 L1674.74,41.26 L1675.40,47.43 L1676.06,54.82 L1676.72,63.34 L1677.38,72.90 L1678.04,83.38 L1678.70,94.68 L1679.36,106.68 L1680.02,119.24 L1680.68,132.26 L1681.34,145.61 L1682.00,159.16 L1682.66,172.82 L1683.32,186.46 L1683.98,200.00 L1684.64,213.33 L1685.30,226.37 L1685.96,239.04 L1686.62,251.29 L1687.28,263.04 L1687.94,274.25 L1688.60,284.88 L1689.26,294.89 L1689.92,304.26 L1690.58,312.96 L1691.24,320.98 L1691.90,328.32 L1692.56,334.95 L1693.22,340.88 L1693.88,346.10 L1694.54,350.62 L1695.20,354.44 L1695.86,357.56 L1696.52,359.99 L1697.18,361.72 L1697.84,362.75 L1698.50,363.10 L1699.16,362.85 L1699.82,362.11 L1700.48,360.87 L1701.14,359.13 L1701.80,356.87 L1702.46,354.09 L1703.12,350.77 L1703.78,346.89 L1704.44,342.44 L1705.10,337.40 L1705.76,331.74 L1706.42,325.46 L1707.08,318.53 L1707.74,310.93 L1708.40,302.66 L1709.06,293.69 L1709.72,284.02 L1710.38,273.66 L1711.04,262.61 L1711.70,250.88 L1712.36,238.52 L1713.02,225.56 L1713.68,212.06 L1714.34,198.09 L1715.00,183.75 L1715.66,169.14 L1716.32,154.40 L1716.98,139.68 L1717.64,125.12 L1718.30,110.91 L1718.96,97.25 L1719.62,84.31 L1720.28,72.31 L1720.94,61.43 L1721.60,51.86 L1722.26,43.78 L1722.92,37.32 L1723.58,32.62 L1724.24,29.76 L1724.90,28.80 L1725.54,29.52 L1726.18,31.67 L1726.81,35.22 L1727.45,40.13 L1728.09,46.33 L1728.73,53.77 L1729.36,62.34 L1730.00,71.96 L1730.64,82.51 L1731.28,93.87 L1731.91,105.94 L1732.55,118.58 L1733.19,131.67 L1733.83,145.10 L1734.46,158.74 L1735.10,172.48 L1735.74,186.20 L1736.38,199.82 L1737.01,213.23 L1737.65,226.35 L1738.29,239.10 L1738.93,251.41 L1739.56,263.24 L1740.20,274.52 L1740.84,285.21 L1741.48,295.28 L1742.11,304.71 L1742.75,313.46 L1743.39,321.53 L1744.03,328.91 L1744.66,335.58 L1745.30,341.54 L1745.94,346.80 L1746.58,351.35 L1747.21,355.19 L1747.85,358.33 L1748.49,360.77 L1749.12,362.51 L1749.76,363.55 L1750.40,363.90 L1751.08,363.65 L1751.75,362.91 L1752.43,361.66 L1753.10,359.91 L1753.78,357.64 L1754.45,354.84 L1755.12,351.49 L1755.80,347.59 L1756.48,343.11 L1757.15,338.04 L1757.83,332.36 L1758.50,326.04 L1759.18,319.06 L1759.85,311.42 L1760.53,303.10 L1761.20,294.07 L1761.88,284.35 L1762.55,273.92 L1763.23,262.80 L1763.90,251.01 L1764.58,238.57 L1765.25,225.53 L1765.93,211.95 L1766.60,197.90 L1767.28,183.48 L1767.95,168.78 L1768.62,153.96 L1769.30,139.14 L1769.98,124.50 L1770.65,110.21 L1771.33,96.46 L1772.00,83.44 L1772.68,71.37 L1773.35,60.43 L1774.03,50.80 L1774.70,42.67 L1775.38,36.17 L1776.05,31.44 L1776.73,28.57 L1777.40,27.60 L1778.03,28.30 L1778.66,30.40 L1779.28,33.87 L1779.91,38.67 L1780.54,44.73 L1781.16,52.00 L1781.79,60.37 L1782.42,69.77 L1783.05,80.07 L1783.68,91.18 L1784.30,102.96 L1784.93,115.32 L1785.56,128.11 L1786.18,141.23 L1786.81,154.55 L1787.44,167.98 L1788.07,181.39 L1788.70,194.69 L1789.32,207.79 L1789.95,220.61 L1790.58,233.07 L1791.21,245.10 L1791.83,256.65 L1792.46,267.67 L1793.09,278.12 L1793.72,287.96 L1794.34,297.17 L1794.97,305.72 L1795.60,313.60 L1796.22,320.81 L1796.85,327.33 L1797.48,333.16 L1798.11,338.29 L1798.74,342.74 L1799.36,346.49 L1799.99,349.56 L1800.62,351.94 L1801.24,353.64 L1801.87,354.66 L1802.50,355.00 L1803.19,354.75 L1803.88,354.01 L1804.56,352.77 L1805.25,351.02 L1805.94,348.75 L1806.62,345.96 L1807.31,342.62 L1808.00,338.73 L1808.69,334.26 L1809.38,329.20 L1810.06,323.53 L1810.75,317.23 L1811.44,310.27 L1812.12,302.65 L1812.81,294.34 L1813.50,285.34 L1814.19,275.64 L1814.88,265.24 L1815.56,254.14 L1816.25,242.38 L1816.94,229.97 L1817.62,216.96 L1818.31,203.41 L1819.00,189.40 L1819.69,175.00 L1820.38,160.35 L1821.06,145.56 L1821.75,130.77 L1822.44,116.17 L1823.12,101.91 L1823.81,88.19 L1824.50,75.21 L1825.19,63.16 L1825.88,52.25 L1826.56,42.65 L1827.25,34.53 L1827.94,28.05 L1828.62,23.33 L1829.31,20.46 L1830.00,19.50 L1830.63,20.21 L1831.27,22.32 L1831.90,25.80 L1832.54,30.63 L1833.17,36.73 L1833.81,44.03 L1834.44,52.45 L1835.08,61.90 L1835.71,72.26 L1836.35,83.43 L1836.99,95.28 L1837.62,107.70 L1838.26,120.56 L1838.89,133.75 L1839.53,147.15 L1840.16,160.65 L1840.80,174.13 L1841.43,187.51 L1842.07,200.68 L1842.70,213.57 L1843.34,226.09 L1843.97,238.19 L1844.61,249.81 L1845.24,260.89 L1845.88,271.39 L1846.51,281.29 L1847.14,290.55 L1847.78,299.15 L1848.41,307.08 L1849.05,314.32 L1849.69,320.88 L1850.32,326.74 L1850.96,331.90 L1851.59,336.37 L1852.23,340.15 L1852.86,343.23 L1853.50,345.62 L1854.13,347.33 L1854.77,348.36 L1855.40,348.70 L1856.08,348.46 L1856.76,347.73 L1857.43,346.52 L1858.11,344.81 L1858.79,342.59 L1859.47,339.86 L1860.14,336.60 L1860.82,332.79 L1861.50,328.43 L1862.18,323.48 L1862.85,317.93 L1863.53,311.77 L1864.21,304.97 L1864.88,297.52 L1865.56,289.40 L1866.24,280.60 L1866.92,271.11 L1867.60,260.94 L1868.27,250.10 L1868.95,238.60 L1869.63,226.47 L1870.31,213.75 L1870.98,200.50 L1871.66,186.80 L1872.34,172.73 L1873.02,158.40 L1873.69,143.94 L1874.37,129.49 L1875.05,115.20 L1875.72,101.27 L1876.40,87.86 L1877.08,75.17 L1877.76,63.39 L1878.43,52.72 L1879.11,43.33 L1879.79,35.40 L1880.47,29.06 L1881.14,24.45 L1881.82,21.64 L1882.50,20.70 L1883.15,21.39 L1883.81,23.45 L1884.46,26.87 L1885.11,31.58 L1885.76,37.55 L1886.41,44.69 L1887.07,52.93 L1887.72,62.17 L1888.37,72.31 L1889.03,83.23 L1889.68,94.82 L1890.33,106.97 L1890.98,119.55 L1891.63,132.45 L1892.29,145.56 L1892.94,158.76 L1893.59,171.95 L1894.24,185.03 L1894.90,197.92 L1895.55,210.52 L1896.20,222.78 L1896.86,234.61 L1897.51,245.97 L1898.16,256.81 L1898.81,267.08 L1899.46,276.76 L1900.12,285.82 L1900.77,294.23 L1901.42,301.99 L1902.07,309.07 L1902.73,315.49 L1903.38,321.22 L1904.03,326.27 L1904.68,330.64 L1905.34,334.33 L1905.99,337.35 L1906.64,339.69 L1907.29,341.36 L1907.95,342.37 L1908.60,342.70 L1909.26,342.46 L1909.92,341.75 L1910.58,340.55 L1911.24,338.86 L1911.90,336.68 L1912.56,333.99 L1913.22,330.78 L1913.88,327.03 L1914.54,322.72 L1915.20,317.85 L1915.86,312.39 L1916.52,306.31 L1917.18,299.61 L1917.84,292.27 L1918.50,284.26 L1919.16,275.59 L1919.82,266.25 L1920.48,256.23 L1921.14,245.54 L1921.80,234.21 L1922.46,222.25 L1923.12,209.72 L1923.78,196.67 L1924.44,183.17 L1925.10,169.30 L1925.76,155.18 L1926.42,140.93 L1927.08,126.69 L1927.74,112.62 L1928.40,98.89 L1929.06,85.67 L1929.72,73.17 L1930.38,61.56 L1931.04,51.05 L1931.70,41.80 L1932.36,33.98 L1933.02,27.74 L1933.68,23.19 L1934.34,20.43 L1935.00,19.50 L1935.66,20.19 L1936.32,22.26 L1936.98,25.67 L1937.64,30.40 L1938.30,36.37 L1938.96,43.52 L1939.62,51.77 L1940.28,61.02 L1940.94,71.17 L1941.60,82.11 L1942.26,93.71 L1942.92,105.88 L1943.58,118.48 L1944.24,131.39 L1944.90,144.52 L1945.56,157.73 L1946.22,170.94 L1946.88,184.04 L1947.54,196.94 L1948.20,209.56 L1948.86,221.83 L1949.52,233.68 L1950.18,245.05 L1950.84,255.90 L1951.50,266.19 L1952.16,275.88 L1952.82,284.95 L1953.48,293.37 L1954.14,301.14 L1954.80,308.23 L1955.46,314.65 L1956.12,320.39 L1956.78,325.45 L1957.44,329.82 L1958.10,333.52 L1958.76,336.54 L1959.42,338.89 L1960.08,340.56 L1960.74,341.57 L1961.40,341.90 L1962.72,340.46 L1964.03,337.54 L1965.35,333.55 L1966.66,328.67 L1967.98,322.99 L1969.29,316.59 L1970.61,309.51 L1971.92,301.79" fill="none" stroke="#0000ff" stroke-width="3.2" stroke-linejoin="round" stroke-linecap="round" />
<path d="M1444.50,207.55 L1445.00,207.29 L1445.50,207.02 L1446.00,206.75 L1446.50,206.47 L1447.00,206.19 L1447.50,205.91 L1448.00,205.63 L1448.50,205.35 L1449.00,205.07 L1449.50,204.79 L1450.00,204.52 L1450.50,204.25 L1451.00,203.98 L1451.50,203.72 L1452.00,203.47 L1452.50,203.23 L1453.00,202.99 L1453.50,202.77 L1454.00,202.56 L1454.50,202.35 L1455.00,202.16 L1455.50,201.98 L1456.00,201.82 L1456.50,201.67 L1457.00,201.53 L1457.50,201.41 L1458.00,201.30 L1458.50,201.21 L1459.00,201.13 L1459.50,201.08 L1460.00,201.03 L1460.50,201.01 L1461.00,201.00 L1461.50,201.01 L1462.00,201.03 L1462.50,201.08 L1463.00,201.13 L1463.50,201.21 L1464.00,201.30 L1464.50,201.41 L1465.00,201.53 L1465.50,201.67 L1466.00,201.82 L1466.50,201.98 L1467.00,202.16 L1467.50,202.35 L1468.00,202.56 L1468.50,202.77 L1469.00,202.99 L1469.50,203.23 L1470.00,203.47 L1470.50,203.72 L1471.00,203.98 L1471.50,204.25 L1472.00,204.52 L1472.50,204.79 L1473.00,205.07 L1473.50,205.35 L1474.00,205.63 L1474.50,205.91 L1475.00,206.19 L1475.50,206.47 L1476.00,206.75 L1476.50,207.02 L1477.00,207.29 L1477.50,207.55 L1478.00,207.80 L1478.50,208.05 L1479.00,208.29 L1479.50,208.52 L1480.00,208.74 L1480.50,208.95 L1481.00,209.15 L1481.50,209.33 L1482.00,209.50 L1482.50,209.66 L1483.00,209.81 L1483.50,209.93 L1484.00,210.05 L1484.50,210.15 L1485.00,210.23 L1485.50,210.30 L1486.00,210.35 L1486.50,210.38 L1487.00,210.40 L1487.50,210.40 L1488.00,210.38 L1488.50,210.35 L1489.00,210.30 L1489.50,210.23 L1490.00,210.15 L1490.50,210.05 L1491.00,209.93 L1491.50,209.81 L1492.00,209.66 L1492.50,209.50 L1493.00,209.33 L1493.50,209.15 L1494.00,208.95 L1494.50,208.74 L1495.00,208.52 L1495.50,208.29 L1496.00,208.05 L1496.50,207.80 L1497.00,207.55 L1497.50,207.29 L1498.00,207.02 L1498.50,206.75 L1499.00,206.47 L1499.50,206.19 L1500.00,205.91 L1500.50,205.63 L1501.00,205.35 L1501.50,205.07 L1502.00,204.79 L1502.50,204.52 L1503.00,204.25 L1503.50,203.98 L1504.00,203.72 L1504.50,203.47 L1505.00,203.23 L1505.50,202.99 L1506.00,202.77 L1506.50,202.56 L1507.00,202.35 L1507.50,202.16 L1508.00,201.98 L1508.50,201.82 L1509.00,201.67 L1509.50,201.53 L1510.00,201.41 L1510.50,201.30 L1511.00,201.21 L1511.50,201.13 L1512.00,201.08 L1512.50,201.03 L1513.00,201.01 L1513.50,201.00 L1514.00,201.01 L1514.50,201.03 L1515.00,201.08 L1515.50,201.13 L1516.00,201.21 L1516.50,201.30 L1517.00,201.41 L1517.50,201.53 L1518.00,201.67 L1518.50,201.82 L1519.00,201.98 L1519.50,202.16 L1520.00,202.35 L1520.50,202.56 L1521.00,202.77 L1521.50,202.99 L1522.00,203.23 L1522.50,203.47 L1523.00,203.72 L1523.50,203.98 L1524.00,204.25 L1524.50,204.52 L1525.00,204.79 L1525.50,205.07 L1526.00,205.35 L1526.50,205.63 L1527.00,205.91 L1527.50,206.19 L1528.00,206.47 L1528.50,206.75 L1529.00,207.02 L1529.50,207.29 L1530.00,207.55 L1530.50,207.80 L1531.00,208.05 L1531.50,208.29 L1532.00,208.52 L1532.50,208.74 L1533.00,208.95 L1533.50,209.15 L1534.00,209.33 L1534.50,209.50 L1535.00,209.66 L1535.50,209.81 L1536.00,209.93 L1536.50,210.05 L1537.00,210.15 L1537.50,210.23 L1538.00,210.30 L1538.50,210.35 L1539.00,210.38 L1539.50,210.40 L1540.00,210.40 L1540.50,210.38 L1541.00,210.35 L1541.50,210.30 L1542.00,210.23 L1542.50,210.15 L1543.00,210.05 L1543.50,209.93 L1544.00,209.81 L1544.50,209.66 L1545.00,209.50 L1545.50,209.33 L1546.00,209.15 L1546.50,208.95 L1547.00,208.74 L1547.50,208.52 L1548.00,208.29 L1548.50,208.05 L1549.00,207.80 L1549.50,207.55 L1550.00,207.29 L1550.50,207.02 L1551.00,206.75 L1551.50,206.47 L1552.00,206.19 L1552.50,205.91 L1553.00,205.63 L1553.50,205.35 L1554.00,205.07 L1554.50,204.79 L1555.00,204.52 L1555.50,204.25 L1556.00,203.98 L1556.50,203.72 L1557.00,203.47 L1557.50,203.23 L1558.00,202.99 L1558.50,202.77 L1559.00,202.56 L1559.50,202.35 L1560.00,202.16 L1560.50,201.98 L1561.00,201.82 L1561.50,201.67 L1562.00,201.53 L1562.50,201.41 L1563.00,201.30 L1563.50,201.21 L1564.00,201.13 L1564.50,201.08 L1565.00,201.03 L1565.50,201.01 L1566.00,201.00 L1566.50,201.01 L1567.00,201.03 L1567.50,201.08 L1568.00,201.13 L1568.50,201.21 L1569.00,201.30 L1569.50,201.41 L1570.00,201.53 L1570.50,201.67 L1571.00,201.82 L1571.50,201.98 L1572.00,202.16 L1572.50,202.35 L1573.00,202.56 L1573.50,202.77 L1574.00,202.99 L1574.50,203.23 L1575.00,203.47 L1575.50,203.72 L1576.00,203.98 L1576.50,204.25 L1577.00,204.52 L1577.50,204.79 L1578.00,205.07 L1578.50,205.35 L1579.00,205.63 L1579.50,205.91 L1580.00,206.19 L1580.50,206.47 L1581.00,206.75 L1581.50,207.02 L1582.00,207.29 L1582.50,207.55 L1583.00,207.80 L1583.50,208.05 L1584.00,208.29 L1584.50,208.52 L1585.00,208.74 L1585.50,208.95 L1586.00,209.15 L1586.50,209.33 L1587.00,209.50 L1587.50,209.66 L1588.00,209.81 L1588.50,209.93 L1589.00,210.05 L1589.50,210.15 L1590.00,210.23 L1590.50,210.30 L1591.00,210.35 L1591.50,210.38 L1592.00,210.40 L1592.50,210.40 L1593.00,210.38 L1593.50,210.35 L1594.00,210.30 L1594.50,210.23 L1595.00,210.15 L1595.50,210.05 L1596.00,209.93 L1596.50,209.81 L1597.00,209.66 L1597.50,209.50 L1598.00,209.33 L1598.50,209.15 L1599.00,208.95 L1599.50,208.74 L1600.00,208.52 L1600.50,208.29 L1601.00,208.05 L1601.50,207.80 L1602.00,207.55 L1602.50,207.29 L1603.00,207.02 L1603.50,206.75 L1604.00,206.47 L1604.50,206.19 L1605.00,205.91 L1605.50,205.63 L1606.00,205.35 L1606.50,205.07 L1607.00,204.79 L1607.50,204.52 L1608.00,204.25 L1608.50,203.98 L1609.00,203.72 L1609.50,203.47 L1610.00,203.23 L1610.50,202.99 L1611.00,202.77 L1611.50,202.56 L1612.00,202.35 L1612.50,202.16 L1613.00,201.98 L1613.50,201.82 L1614.00,201.67 L1614.50,201.53 L1615.00,201.41 L1615.50,201.30 L1616.00,201.21 L1616.50,201.13 L1617.00,201.08 L1617.50,201.03 L1618.00,201.01 L1618.50,201.00 L1619.00,201.01 L1619.50,201.03 L1620.00,201.08 L1620.50,201.13 L1621.00,201.21 L1621.50,201.30 L1622.00,201.41 L1622.50,201.53 L1623.00,201.67 L1623.50,201.82 L1624.00,201.98 L1624.50,202.16 L1625.00,202.35 L1625.50,202.56 L1626.00,202.77 L1626.50,202.99 L1627.00,203.23 L1627.50,203.47 L1628.00,203.72 L1628.50,203.98 L1629.00,204.25 L1629.50,204.52 L1630.00,204.79 L1630.50,205.07 L1631.00,205.35 L1631.50,205.63 L1632.00,205.91 L1632.50,206.19 L1633.00,206.47 L1633.50,206.75 L1634.00,207.02 L1634.50,207.29 L1635.00,207.55 L1635.50,207.80 L1636.00,208.05 L1636.50,208.29 L1637.00,208.52 L1637.50,208.74 L1638.00,208.95 L1638.50,209.15 L1639.00,209.33 L1639.50,209.50 L1640.00,209.66 L1640.50,209.81 L1641.00,209.93 L1641.50,210.05 L1642.00,210.15 L1642.50,210.23 L1643.00,210.30 L1643.50,210.35 L1644.00,210.38 L1644.50,210.40 L1645.00,210.40 L1645.50,210.38 L1646.00,210.35 L1646.50,210.30 L1647.00,210.23 L1647.50,210.15 L1648.00,210.05 L1648.50,209.93 L1649.00,209.81 L1649.50,209.66 L1650.00,209.50 L1650.50,209.33 L1651.00,209.15 L1651.50,208.95 L1652.00,208.74 L1652.50,208.52 L1653.00,208.29 L1653.50,208.05 L1654.00,207.80 L1654.50,207.55 L1655.00,207.29 L1655.50,207.02 L1656.00,206.75 L1656.50,206.47 L1657.00,206.19 L1657.50,205.91 L1658.00,205.63 L1658.50,205.35 L1659.00,205.07 L1659.50,204.79 L1660.00,204.52 L1660.50,204.25 L1661.00,203.98 L1661.50,203.72 L1662.00,203.47 L1662.50,203.23 L1663.00,202.99 L1663.50,202.77 L1664.00,202.56 L1664.50,202.35 L1665.00,202.16 L1665.50,201.98 L1666.00,201.82 L1666.50,201.67 L1667.00,201.53 L1667.50,201.41 L1668.00,201.30 L1668.50,201.21 L1669.00,201.13 L1669.50,201.08 L1670.00,201.03 L1670.50,201.01 L1671.00,201.00 L1671.50,201.01 L1672.00,201.03 L1672.50,201.08 L1673.00,201.13 L1673.50,201.21 L1674.00,201.30 L1674.50,201.41 L1675.00,201.53 L1675.50,201.67 L1676.00,201.82 L1676.50,201.98 L1677.00,202.16 L1677.50,202.35 L1678.00,202.56 L1678.50,202.77 L1679.00,202.99 L1679.50,203.23 L1680.00,203.47 L1680.50,203.72 L1681.00,203.98 L1681.50,204.25 L1682.00,204.52 L1682.50,204.79 L1683.00,205.07 L1683.50,205.35 L1684.00,205.63 L1684.50,205.91 L1685.00,206.19 L1685.50,206.47 L1686.00,206.75 L1686.50,207.02 L1687.00,207.29 L1687.50,207.55 L1688.00,207.80 L1688.50,208.05 L1689.00,208.29 L1689.50,208.52 L1690.00,208.74 L1690.50,208.95 L1691.00,209.15 L1691.50,209.33 L1692.00,209.50 L1692.50,209.66 L1693.00,209.81 L1693.50,209.93 L1694.00,210.05 L1694.50,210.15 L1695.00,210.23 L1695.50,210.30 L1696.00,210.35 L1696.50,210.38 L1697.00,210.40 L1697.50,210.40 L1698.00,210.38 L1698.50,210.35 L1699.00,210.30 L1699.50,210.23 L1700.00,210.15 L1700.50,210.05 L1701.00,209.93 L1701.50,209.81 L1702.00,209.66 L1702.50,209.50 L1703.00,209.33 L1703.50,209.15 L1704.00,208.95 L1704.50,208.74 L1705.00,208.52 L1705.50,208.29 L1706.00,208.05 L1706.50,207.80 L1707.00,207.55 L1707.50,207.29 L1708.00,207.02 L1708.50,206.75 L1709.00,206.47 L1709.50,206.19 L1710.00,205.91 L1710.50,205.63 L1711.00,205.35 L1711.50,205.07 L1712.00,204.79 L1712.50,204.52 L1713.00,204.25 L1713.50,203.98 L1714.00,203.72 L1714.50,203.47 L1715.00,203.23 L1715.50,202.99 L1716.00,202.77 L1716.50,202.56 L1717.00,202.35 L1717.50,202.16 L1718.00,201.98 L1718.50,201.82 L1719.00,201.67 L1719.50,201.53 L1720.00,201.41 L1720.50,201.30 L1721.00,201.21 L1721.50,201.13 L1722.00,201.08 L1722.50,201.03 L1723.00,201.01 L1723.50,201.00 L1724.00,201.01 L1724.50,201.03 L1725.00,201.08 L1725.50,201.13 L1726.00,201.21 L1726.50,201.30 L1727.00,201.41 L1727.50,201.53 L1728.00,201.67 L1728.50,201.82 L1729.00,201.98 L1729.50,202.16 L1730.00,202.35 L1730.50,202.56 L1731.00,202.77 L1731.50,202.99 L1732.00,203.23 L1732.50,203.47 L1733.00,203.72 L1733.50,203.98 L1734.00,204.25 L1734.50,204.52 L1735.00,204.79 L1735.50,205.07 L1736.00,205.35 L1736.50,205.63 L1737.00,205.91 L1737.50,206.19 L1738.00,206.47 L1738.50,206.75 L1739.00,207.02 L1739.50,207.29 L1740.00,207.55 L1740.50,207.80 L1741.00,208.05 L1741.50,208.29 L1742.00,208.52 L1742.50,208.74 L1743.00,208.95 L1743.50,209.15 L1744.00,209.33 L1744.50,209.50 L1745.00,209.66 L1745.50,209.81 L1746.00,209.93 L1746.50,210.05 L1747.00,210.15 L1747.50,210.23 L1748.00,210.30 L1748.50,210.35 L1749.00,210.38 L1749.50,210.40 L1750.00,210.40 L1750.50,210.38 L1751.00,210.35 L1751.50,210.30 L1752.00,210.23 L1752.50,210.15 L1753.00,210.05 L1753.50,209.93 L1754.00,209.81 L1754.50,209.66 L1755.00,209.50 L1755.50,209.33 L1756.00,209.15 L1756.50,208.95 L1757.00,208.74 L1757.50,208.52 L1758.00,208.29 L1758.50,208.05 L1759.00,207.80 L1759.50,207.55 L1760.00,207.29 L1760.50,207.02 L1761.00,206.75 L1761.50,206.47 L1762.00,206.19 L1762.50,205.91 L1763.00,205.63 L1763.50,205.35 L1764.00,205.07 L1764.50,204.79 L1765.00,204.52 L1765.50,204.25 L1766.00,203.98 L1766.50,203.72 L1767.00,203.47 L1767.50,203.23 L1768.00,202.99 L1768.50,202.77 L1769.00,202.56 L1769.50,202.35 L1770.00,202.16 L1770.50,201.98 L1771.00,201.82 L1771.50,201.67 L1772.00,201.53 L1772.50,201.41 L1773.00,201.30 L1773.50,201.21 L1774.00,201.13 L1774.50,201.08 L1775.00,201.03 L1775.50,201.01 L1776.00,201.00 L1776.50,201.01 L1777.00,201.03 L1777.50,201.08 L1778.00,201.13 L1778.50,201.21 L1779.00,201.30 L1779.50,201.41 L1780.00,201.53 L1780.50,201.67 L1781.00,201.82 L1781.50,201.98 L1782.00,202.16 L1782.50,202.35 L1783.00,202.56 L1783.50,202.77 L1784.00,202.99 L1784.50,203.23 L1785.00,203.47 L1785.50,203.72 L1786.00,203.98 L1786.50,204.25 L1787.00,204.52 L1787.50,204.79 L1788.00,205.07 L1788.50,205.35 L1789.00,205.63 L1789.50,205.91 L1790.00,206.19 L1790.50,206.47 L1791.00,206.75 L1791.50,207.02 L1792.00,207.29 L1792.50,207.55 L1793.00,207.80 L1793.50,208.05 L1794.00,208.29 L1794.50,208.52 L1795.00,208.74 L1795.50,208.95 L1796.00,209.15 L1796.50,209.33 L1797.00,209.50 L1797.50,209.66 L1798.00,209.81 L1798.50,209.93 L1799.00,210.05 L1799.50,210.15 L1800.00,210.23 L1800.50,210.30 L1801.00,210.35 L1801.50,210.38 L1802.00,210.40 L1802.50,210.40 L1803.00,210.38 L1803.50,210.35 L1804.00,210.30 L1804.50,210.23 L1805.00,210.15 L1805.50,210.05 L1806.00,209.93 L1806.50,209.81 L1807.00,209.66 L1807.50,209.50 L1808.00,209.33 L1808.50,209.15 L1809.00,208.95 L1809.50,208.74 L1810.00,208.52 L1810.50,208.29 L1811.00,208.05 L1811.50,207.80 L1812.00,207.55 L1812.50,207.29 L1813.00,207.02 L1813.50,206.75 L1814.00,206.47 L1814.50,206.19 L1815.00,205.91 L1815.50,205.63 L1816.00,205.35 L1816.50,205.07 L1817.00,204.79 L1817.50,204.52 L1818.00,204.25 L1818.50,203.98 L1819.00,203.72 L1819.50,203.47 L1820.00,203.23 L1820.50,202.99 L1821.00,202.77 L1821.50,202.56 L1822.00,202.35 L1822.50,202.16 L1823.00,201.98 L1823.50,201.82 L1824.00,201.67 L1824.50,201.53 L1825.00,201.41 L1825.50,201.30 L1826.00,201.21 L1826.50,201.13 L1827.00,201.08 L1827.50,201.03 L1828.00,201.01 L1828.50,201.00 L1829.00,201.01 L1829.50,201.03 L1830.00,201.08 L1830.50,201.13 L1831.00,201.21 L1831.50,201.30 L1832.00,201.41 L1832.50,201.53 L1833.00,201.67 L1833.50,201.82 L1834.00,201.98 L1834.50,202.16 L1835.00,202.35 L1835.50,202.56 L1836.00,202.77 L1836.50,202.99 L1837.00,203.23 L1837.50,203.47 L1838.00,203.72 L1838.50,203.98 L1839.00,204.25 L1839.50,204.52 L1840.00,204.79 L1840.50,205.07 L1841.00,205.35 L1841.50,205.63 L1842.00,205.91 L1842.50,206.19 L1843.00,206.47 L1843.50,206.75 L1844.00,207.02 L1844.50,207.29 L1845.00,207.55 L1845.50,207.80 L1846.00,208.05 L1846.50,208.29 L1847.00,208.52 L1847.50,208.74 L1848.00,208.95 L1848.50,209.15 L1849.00,209.33 L1849.50,209.50 L1850.00,209.66 L1850.50,209.81 L1851.00,209.93 L1851.50,210.05 L1852.00,210.15 L1852.50,210.23 L1853.00,210.30 L1853.50,210.35 L1854.00,210.38 L1854.50,210.40 L1855.00,210.40 L1855.50,210.38 L1856.00,210.35 L1856.50,210.30 L1857.00,210.23 L1857.50,210.15 L1858.00,210.05 L1858.50,209.93 L1859.00,209.81 L1859.50,209.66 L1860.00,209.50 L1860.50,209.33 L1861.00,209.15 L1861.50,208.95 L1862.00,208.74 L1862.50,208.52 L1863.00,208.29 L1863.50,208.05 L1864.00,207.80 L1864.50,207.55 L1865.00,207.29 L1865.50,207.02 L1866.00,206.75 L1866.50,206.47 L1867.00,206.19 L1867.50,205.91 L1868.00,205.63 L1868.50,205.35 L1869.00,205.07 L1869.50,204.79 L1870.00,204.52 L1870.50,204.25 L1871.00,203.98 L1871.50,203.72 L1872.00,203.47 L1872.50,203.23 L1873.00,202.99 L1873.50,202.77 L1874.00,202.56 L1874.50,202.35 L1875.00,202.16 L1875.50,201.98 L1876.00,201.82 L1876.50,201.67 L1877.00,201.53 L1877.50,201.41 L1878.00,201.30 L1878.50,201.21 L1879.00,201.13 L1879.50,201.08 L1880.00,201.03 L1880.50,201.01 L1881.00,201.00 L1881.50,201.01 L1882.00,201.03 L1882.50,201.08 L1883.00,201.13 L1883.50,201.21 L1884.00,201.30 L1884.50,201.41 L1885.00,201.53 L1885.50,201.67 L1886.00,201.82 L1886.50,201.98 L1887.00,202.16 L1887.50,202.35 L1888.00,202.56 L1888.50,202.77 L1889.00,202.99 L1889.50,203.23 L1890.00,203.47 L1890.50,203.72 L1891.00,203.98 L1891.50,204.25 L1892.00,204.52 L1892.50,204.79 L1893.00,205.07 L1893.50,205.35 L1894.00,205.63 L1894.50,205.91 L1895.00,206.19 L1895.50,206.47 L1896.00,206.75 L1896.50,207.02 L1897.00,207.29 L1897.50,207.55 L1898.00,207.80 L1898.50,208.05 L1899.00,208.29 L1899.50,208.52 L1900.00,208.74 L1900.50,208.95 L1901.00,209.15 L1901.50,209.33 L1902.00,209.50 L1902.50,209.66 L1903.00,209.81 L1903.50,209.93 L1904.00,210.05 L1904.50,210.15 L1905.00,210.23 L1905.50,210.30 L1906.00,210.35 L1906.50,210.38 L1907.00,210.40 L1907.50,210.40 L1908.00,210.38 L1908.50,210.35 L1909.00,210.30 L1909.50,210.23 L1910.00,210.15 L1910.50,210.05 L1911.00,209.93 L1911.50,209.81 L1912.00,209.66 L1912.50,209.50 L1913.00,209.33 L1913.50,209.15 L1914.00,208.95 L1914.50,208.74 L1915.00,208.52 L1915.50,208.29 L1916.00,208.05 L1916.50,207.80 L1917.00,207.55 L1917.50,207.29 L1918.00,207.02 L1918.50,206.75 L1919.00,206.47 L1919.50,206.19 L1920.00,205.91 L1920.50,205.63 L1921.00,205.35 L1921.50,205.07 L1922.00,204.79 L1922.50,204.52 L1923.00,204.25 L1923.50,203.98 L1924.00,203.72 L1924.50,203.47 L1925.00,203.23 L1925.50,202.99 L1926.00,202.77 L1926.50,202.56 L1927.00,202.35 L1927.50,202.16 L1928.00,201.98 L1928.50,201.82 L1929.00,201.67 L1929.50,201.53 L1930.00,201.41 L1930.50,201.30 L1931.00,201.21 L1931.50,201.13 L1932.00,201.08 L1932.50,201.03 L1933.00,201.01 L1933.50,201.00 L1934.00,201.01 L1934.50,201.03 L1935.00,201.08 L1935.50,201.13 L1936.00,201.21 L1936.50,201.30 L1937.00,201.41 L1937.50,201.53 L1938.00,201.67 L1938.50,201.82 L1939.00,201.98 L1939.50,202.16 L1940.00,202.35 L1940.50,202.56 L1941.00,202.77 L1941.50,202.99 L1942.00,203.23 L1942.50,203.47 L1943.00,203.72 L1943.50,203.98 L1944.00,204.25 L1944.50,204.52 L1945.00,204.79 L1945.50,205.07 L1946.00,205.35 L1946.50,205.63 L1947.00,205.91 L1947.50,206.19 L1948.00,206.47 L1948.50,206.75 L1949.00,207.02 L1949.50,207.29 L1950.00,207.55 L1950.50,207.80 L1951.00,208.05 L1951.50,208.29 L1952.00,208.52 L1952.50,208.74 L1953.00,208.95 L1953.50,209.15 L1954.00,209.33 L1954.50,209.50 L1955.00,209.66 L1955.50,209.81 L1956.00,209.93 L1956.50,210.05 L1957.00,210.15 L1957.50,210.23 L1958.00,210.30 L1958.50,210.35 L1959.00,210.38 L1959.50,210.40 L1960.00,210.40 L1960.50,210.38 L1961.00,210.35 L1961.50,210.30 L1962.00,210.23 L1962.50,210.15 L1963.00,210.05 L1963.50,209.93 L1964.00,209.81 L1964.50,209.66 L1965.00,209.50 L1965.50,209.33 L1966.00,209.15 L1966.50,208.95 L1967.00,208.74 L1967.50,208.52 L1968.00,208.29 L1968.50,208.05 L1969.00,207.80 L1969.50,207.55" fill="none" stroke="#000" stroke-width="3.4" stroke-linejoin="round" stroke-linecap="round" />
</g>
<rect x="1444.5" y="17.0" width="525.0" height="366.10" fill="none" stroke="#000" stroke-width="1.5"/>
<path d="M1444.5,372.66h7.0M1969.5,372.66h-7.0M1444.5,345.30h3.6M1969.5,345.30h-3.6M1444.5,317.94h7.0M1969.5,317.94h-7.0M1444.5,290.58h3.6M1969.5,290.58h-3.6M1444.5,263.22h7.0M1969.5,263.22h-7.0M1444.5,235.86h3.6M1969.5,235.86h-3.6M1444.5,208.50h7.0M1969.5,208.50h-7.0M1444.5,181.14h3.6M1969.5,181.14h-3.6M1444.5,153.78h7.0M1969.5,153.78h-7.0M1444.5,126.42h3.6M1969.5,126.42h-3.6M1444.5,99.06h7.0M1969.5,99.06h-7.0M1444.5,71.70h3.6M1969.5,71.70h-3.6M1444.5,44.34h7.0M1969.5,44.34h-7.0M1444.50,383.1v-7.0M1444.50,17.0v7.0M1470.75,383.1v-3.6M1470.75,17.0v3.6M1497.00,383.1v-7.0M1497.00,17.0v7.0M1523.25,383.1v-3.6M1523.25,17.0v3.6M1549.50,383.1v-7.0M1549.50,17.0v7.0M1575.75,383.1v-3.6M1575.75,17.0v3.6M1602.00,383.1v-7.0M1602.00,17.0v7.0M1628.25,383.1v-3.6M1628.25,17.0v3.6M1654.50,383.1v-7.0M1654.50,17.0v7.0M1680.75,383.1v-3.6M1680.75,17.0v3.6M1707.00,383.1v-7.0M1707.00,17.0v7.0M1733.25,383.1v-3.6M1733.25,17.0v3.6M1759.50,383.1v-7.0M1759.50,17.0v7.0M1785.75,383.1v-3.6M1785.75,17.0v3.6M1812.00,383.1v-7.0M1812.00,17.0v7.0M1838.25,383.1v-3.6M1838.25,17.0v3.6M1864.50,383.1v-7.0M1864.50,17.0v7.0M1890.75,383.1v-3.6M1890.75,17.0v3.6M1917.00,383.1v-7.0M1917.00,17.0v7.0M1943.25,383.1v-3.6M1943.25,17.0v3.6M1969.50,383.1v-7.0M1969.50,17.0v7.0" stroke="#000" stroke-width="1.4" fill="none"/>
<text x="1442.10" y="377.46" font-size="15.3" text-anchor="end" font-family="'Liberation Sans', Arial, sans-serif" stroke="#000" stroke-width="0.3" >-300</text>
<text x="1442.10" y="322.74" font-size="15.3" text-anchor="end" font-family="'Liberation Sans', Arial, sans-serif" stroke="#000" stroke-width="0.3" >-200</text>
<text x="1442.10" y="268.02" font-size="15.3" text-anchor="end" font-family="'Liberation Sans', Arial, sans-serif" stroke="#000" stroke-width="0.3" >-100</text>
<text x="1442.10" y="213.30" font-size="15.3" text-anchor="end" font-family="'Liberation Sans', Arial, sans-serif" stroke="#000" stroke-width="0.3" >0</text>
<text x="1442.10" y="158.58" font-size="15.3" text-anchor="end" font-family="'Liberation Sans', Arial, sans-serif" stroke="#000" stroke-width="0.3" >100</text>
<text x="1442.10" y="103.86" font-size="15.3" text-anchor="end" font-family="'Liberation Sans', Arial, sans-serif" stroke="#000" stroke-width="0.3" >200</text>
<text x="1442.10" y="49.14" font-size="15.3" text-anchor="end" font-family="'Liberation Sans', Arial, sans-serif" stroke="#000" stroke-width="0.3" >300</text>
<text x="1444.60" y="401.00" font-size="15.3" text-anchor="middle" font-family="'Liberation Sans', Arial, sans-serif" stroke="#000" stroke-width="0.3" >0</text>
<text x="1497.10" y="401.00" font-size="15.3" text-anchor="middle" font-family="'Liberation Sans', Arial, sans-serif" stroke="#000" stroke-width="0.3" >1</text>
<text x="1549.60" y="401.00" font-size="15.3" text-anchor="middle" font-family="'Liberation Sans', Arial, sans-serif" stroke="#000" stroke-width="0.3" >2</text>
<text x="1602.10" y="401.00" font-size="15.3" text-anchor="middle" font-family="'Liberation Sans', Arial, sans-serif" stroke="#000" stroke-width="0.3" >3</text>
<text x="1654.60" y="401.00" font-size="15.3" text-anchor="middle" font-family="'Liberation Sans', Arial, sans-serif" stroke="#000" stroke-width="0.3" >4</text>
<text x="1707.10" y="401.00" font-size="15.3" text-anchor="middle" font-family="'Liberation Sans', Arial, sans-serif" stroke="#000" stroke-width="0.3" >5</text>
<text x="1759.60" y="401.00" font-size="15.3" text-anchor="middle" font-family="'Liberation Sans', Arial, sans-serif" stroke="#000" stroke-width="0.3" >6</text>
<text x="1812.10" y="401.00" font-size="15.3" text-anchor="middle" font-family="'Liberation Sans', Arial, sans-serif" stroke="#000" stroke-width="0.3" >7</text>
<text x="1864.60" y="401.00" font-size="15.3" text-anchor="middle" font-family="'Liberation Sans', Arial, sans-serif" stroke="#000" stroke-width="0.3" >8</text>
<text x="1917.10" y="401.00" font-size="15.3" text-anchor="middle" font-family="'Liberation Sans', Arial, sans-serif" stroke="#000" stroke-width="0.3" >9</text>
<text x="1969.60" y="401.00" font-size="15.3" text-anchor="middle" font-family="'Liberation Sans', Arial, sans-serif" stroke="#000" stroke-width="0.3" >10</text>
<text x="1707.80" y="424.50" font-size="22.2" text-anchor="middle" font-family="'Liberation Sans', Arial, sans-serif" stroke="#000" stroke-width="0.3" >Time (s)</text>
<text transform="translate(1413.2,223.6) rotate(-90)" font-size="21.8" textLength="14.2" lengthAdjust="spacingAndGlyphs" font-family="'Noto Serif CJK SC', 'Liberation Serif', serif" font-weight="300">Δ</text>
<text transform="translate(1413.2,208.3) rotate(-90)" font-size="19.9" textLength="12.95" lengthAdjust="spacingAndGlyphs" font-family="'Noto Serif CJK SC', 'Liberation Serif', serif" font-weight="300" font-style="italic">λ</text>
<text transform="translate(1411.6,186.1) rotate(-90)" font-size="21.5" font-family="'Liberation Sans', Arial, sans-serif" stroke="#000" stroke-width="0.3">(pm)</text>
</svg></body></html>
